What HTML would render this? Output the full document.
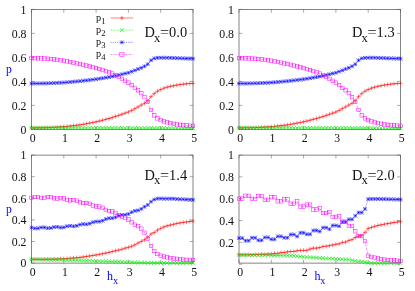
<!DOCTYPE html><html><head><meta charset="utf-8"><style>html,body{margin:0;padding:0;background:#fff}body{width:415px;height:291px;overflow:hidden;position:relative;font-family:"Liberation Serif",serif}</style></head><body><svg width="415" height="291" viewBox="0 0 415 291" style="position:absolute;left:0;top:0;will-change:transform">
<style>text{font-family:"Liberation Serif",serif;fill:#111}</style>
<rect x="31.5" y="9.4" width="161.5" height="120.0" fill="none" stroke="#505050" stroke-width="0.7"/>
<path d="M31.50 129.4v-3.4M31.50 9.4v3.4M31.5 129.40h3.4M193.0 129.40h-3.4M63.80 129.4v-3.4M63.80 9.4v3.4M31.5 105.40h3.4M193.0 105.40h-3.4M96.10 129.4v-3.4M96.10 9.4v3.4M31.5 81.40h3.4M193.0 81.40h-3.4M128.40 129.4v-3.4M128.40 9.4v3.4M31.5 57.40h3.4M193.0 57.40h-3.4M160.70 129.4v-3.4M160.70 9.4v3.4M31.5 33.40h3.4M193.0 33.40h-3.4M193.00 129.4v-3.4M193.00 9.4v3.4M31.5 9.40h3.4M193.0 9.40h-3.4" stroke="#555" stroke-width="0.5" fill="none"/>
<text x="32.70" y="141.50" font-size="11.8" text-anchor="middle">0</text>
<text x="65.00" y="141.50" font-size="11.8" text-anchor="middle">1</text>
<text x="97.30" y="141.50" font-size="11.8" text-anchor="middle">2</text>
<text x="129.60" y="141.50" font-size="11.8" text-anchor="middle">3</text>
<text x="161.90" y="141.50" font-size="11.8" text-anchor="middle">4</text>
<text x="194.20" y="141.50" font-size="11.8" text-anchor="middle">5</text>
<text x="26.50" y="133.60" font-size="11.8" text-anchor="end">0</text>
<text x="26.50" y="109.60" font-size="11.8" text-anchor="end">0.2</text>
<text x="26.50" y="85.60" font-size="11.8" text-anchor="end">0.4</text>
<text x="26.50" y="61.60" font-size="11.8" text-anchor="end">0.6</text>
<text x="26.50" y="37.60" font-size="11.8" text-anchor="end">0.8</text>
<text x="26.50" y="13.60" font-size="11.8" text-anchor="end">1</text>
<polyline points="31.50,127.90 34.73,127.86 37.96,127.83 41.19,127.79 44.42,127.75 47.65,127.66 50.88,127.52 54.11,127.34 57.34,127.14 60.57,126.94 63.80,126.70 67.03,126.39 70.26,126.04 73.49,125.68 76.72,125.31 79.95,124.87 83.18,124.34 86.41,123.76 89.64,123.16 92.87,122.54 96.10,121.86 99.33,121.08 102.56,120.23 105.79,119.37 109.02,118.49 112.25,117.54 115.48,116.50 118.71,115.38 121.94,114.26 125.17,113.10 128.40,112.00 131.63,110.44 134.86,108.64 138.09,106.84 141.32,105.04 144.55,103.24 147.78,100.84 151.01,96.64 154.24,93.64 157.47,91.24 160.70,89.56 163.93,88.12 167.16,87.16 170.39,86.32 173.62,85.72 176.85,85.12 180.08,84.52 183.31,84.16 186.54,83.80 189.77,83.56 193.00,83.32" fill="none" stroke="#ff0000" stroke-width="0.5"/>
<path d="M29.40 127.90H33.60M31.50 125.80V130.00" stroke="#ff0000" stroke-width="0.5" fill="none"/>
<path d="M32.63 127.86H36.83M34.73 125.76V129.96" stroke="#ff0000" stroke-width="0.5" fill="none"/>
<path d="M35.86 127.83H40.06M37.96 125.73V129.93" stroke="#ff0000" stroke-width="0.5" fill="none"/>
<path d="M39.09 127.79H43.29M41.19 125.69V129.89" stroke="#ff0000" stroke-width="0.5" fill="none"/>
<path d="M42.32 127.75H46.52M44.42 125.65V129.85" stroke="#ff0000" stroke-width="0.5" fill="none"/>
<path d="M45.55 127.66H49.75M47.65 125.56V129.76" stroke="#ff0000" stroke-width="0.5" fill="none"/>
<path d="M48.78 127.52H52.98M50.88 125.42V129.62" stroke="#ff0000" stroke-width="0.5" fill="none"/>
<path d="M52.01 127.34H56.21M54.11 125.24V129.44" stroke="#ff0000" stroke-width="0.5" fill="none"/>
<path d="M55.24 127.14H59.44M57.34 125.04V129.24" stroke="#ff0000" stroke-width="0.5" fill="none"/>
<path d="M58.47 126.94H62.67M60.57 124.84V129.04" stroke="#ff0000" stroke-width="0.5" fill="none"/>
<path d="M61.70 126.70H65.90M63.80 124.60V128.80" stroke="#ff0000" stroke-width="0.5" fill="none"/>
<path d="M64.93 126.39H69.13M67.03 124.29V128.49" stroke="#ff0000" stroke-width="0.5" fill="none"/>
<path d="M68.16 126.04H72.36M70.26 123.94V128.14" stroke="#ff0000" stroke-width="0.5" fill="none"/>
<path d="M71.39 125.68H75.59M73.49 123.58V127.78" stroke="#ff0000" stroke-width="0.5" fill="none"/>
<path d="M74.62 125.31H78.82M76.72 123.21V127.41" stroke="#ff0000" stroke-width="0.5" fill="none"/>
<path d="M77.85 124.87H82.05M79.95 122.77V126.97" stroke="#ff0000" stroke-width="0.5" fill="none"/>
<path d="M81.08 124.34H85.28M83.18 122.25V126.44" stroke="#ff0000" stroke-width="0.5" fill="none"/>
<path d="M84.31 123.76H88.51M86.41 121.66V125.86" stroke="#ff0000" stroke-width="0.5" fill="none"/>
<path d="M87.54 123.16H91.74M89.64 121.06V125.26" stroke="#ff0000" stroke-width="0.5" fill="none"/>
<path d="M90.77 122.54H94.97M92.87 120.44V124.64" stroke="#ff0000" stroke-width="0.5" fill="none"/>
<path d="M94.00 121.86H98.20M96.10 119.76V123.96" stroke="#ff0000" stroke-width="0.5" fill="none"/>
<path d="M97.23 121.08H101.43M99.33 118.98V123.18" stroke="#ff0000" stroke-width="0.5" fill="none"/>
<path d="M100.46 120.23H104.66M102.56 118.13V122.33" stroke="#ff0000" stroke-width="0.5" fill="none"/>
<path d="M103.69 119.37H107.89M105.79 117.27V121.47" stroke="#ff0000" stroke-width="0.5" fill="none"/>
<path d="M106.92 118.49H111.12M109.02 116.39V120.59" stroke="#ff0000" stroke-width="0.5" fill="none"/>
<path d="M110.15 117.54H114.35M112.25 115.44V119.64" stroke="#ff0000" stroke-width="0.5" fill="none"/>
<path d="M113.38 116.50H117.58M115.48 114.40V118.60" stroke="#ff0000" stroke-width="0.5" fill="none"/>
<path d="M116.61 115.38H120.81M118.71 113.28V117.48" stroke="#ff0000" stroke-width="0.5" fill="none"/>
<path d="M119.84 114.26H124.04M121.94 112.16V116.36" stroke="#ff0000" stroke-width="0.5" fill="none"/>
<path d="M123.07 113.10H127.27M125.17 111.00V115.20" stroke="#ff0000" stroke-width="0.5" fill="none"/>
<path d="M126.30 112.00H130.50M128.40 109.90V114.10" stroke="#ff0000" stroke-width="0.5" fill="none"/>
<path d="M129.53 110.44H133.73M131.63 108.34V112.54" stroke="#ff0000" stroke-width="0.5" fill="none"/>
<path d="M132.76 108.64H136.96M134.86 106.54V110.74" stroke="#ff0000" stroke-width="0.5" fill="none"/>
<path d="M135.99 106.84H140.19M138.09 104.74V108.94" stroke="#ff0000" stroke-width="0.5" fill="none"/>
<path d="M139.22 105.04H143.42M141.32 102.94V107.14" stroke="#ff0000" stroke-width="0.5" fill="none"/>
<path d="M142.45 103.24H146.65M144.55 101.14V105.34" stroke="#ff0000" stroke-width="0.5" fill="none"/>
<path d="M145.68 100.84H149.88M147.78 98.74V102.94" stroke="#ff0000" stroke-width="0.5" fill="none"/>
<path d="M148.91 96.64H153.11M151.01 94.54V98.74" stroke="#ff0000" stroke-width="0.5" fill="none"/>
<path d="M152.14 93.64H156.34M154.24 91.54V95.74" stroke="#ff0000" stroke-width="0.5" fill="none"/>
<path d="M155.37 91.24H159.57M157.47 89.14V93.34" stroke="#ff0000" stroke-width="0.5" fill="none"/>
<path d="M158.60 89.56H162.80M160.70 87.46V91.66" stroke="#ff0000" stroke-width="0.5" fill="none"/>
<path d="M161.83 88.12H166.03M163.93 86.02V90.22" stroke="#ff0000" stroke-width="0.5" fill="none"/>
<path d="M165.06 87.16H169.26M167.16 85.06V89.26" stroke="#ff0000" stroke-width="0.5" fill="none"/>
<path d="M168.29 86.32H172.49M170.39 84.22V88.42" stroke="#ff0000" stroke-width="0.5" fill="none"/>
<path d="M171.52 85.72H175.72M173.62 83.62V87.82" stroke="#ff0000" stroke-width="0.5" fill="none"/>
<path d="M174.75 85.12H178.95M176.85 83.02V87.22" stroke="#ff0000" stroke-width="0.5" fill="none"/>
<path d="M177.98 84.52H182.18M180.08 82.42V86.62" stroke="#ff0000" stroke-width="0.5" fill="none"/>
<path d="M181.21 84.16H185.41M183.31 82.06V86.26" stroke="#ff0000" stroke-width="0.5" fill="none"/>
<path d="M184.44 83.80H188.64M186.54 81.70V85.90" stroke="#ff0000" stroke-width="0.5" fill="none"/>
<path d="M187.67 83.56H191.87M189.77 81.46V85.66" stroke="#ff0000" stroke-width="0.5" fill="none"/>
<path d="M190.90 83.32H195.10M193.00 81.22V85.42" stroke="#ff0000" stroke-width="0.5" fill="none"/>
<polyline points="31.50,127.90 34.73,127.90 37.96,127.91 41.19,127.91 44.42,127.91 47.65,127.92 50.88,127.92 54.11,127.92 57.34,127.92 60.57,127.93 63.80,127.93 67.03,127.93 70.26,127.94 73.49,127.94 76.72,127.94 79.95,127.95 83.18,127.95 86.41,127.95 89.64,127.95 92.87,127.96 96.10,127.96 99.33,127.97 102.56,127.98 105.79,127.98 109.02,127.99 112.25,128.00 115.48,128.01 118.71,128.02 121.94,128.02 125.17,128.03 128.40,128.04 131.63,128.05 134.86,128.06 138.09,128.06 141.32,128.07 144.55,128.08 147.78,128.09 151.01,128.10 154.24,128.10 157.47,128.11 160.70,128.12 163.93,128.13 167.16,128.14 170.39,128.14 173.62,128.15 176.85,128.16 180.08,128.17 183.31,128.18 186.54,128.18 189.77,128.19 193.00,128.20" fill="none" stroke="#00ee00" stroke-width="0.75" stroke-dasharray="2.0,1.0"/>
<path d="M29.55 125.95L33.45 129.85M29.55 129.85L33.45 125.95" stroke="#00ee00" stroke-width="0.62" fill="none"/>
<path d="M32.78 125.95L36.68 129.85M32.78 129.85L36.68 125.95" stroke="#00ee00" stroke-width="0.62" fill="none"/>
<path d="M36.01 125.96L39.91 129.86M36.01 129.86L39.91 125.96" stroke="#00ee00" stroke-width="0.62" fill="none"/>
<path d="M39.24 125.96L43.14 129.86M39.24 129.86L43.14 125.96" stroke="#00ee00" stroke-width="0.62" fill="none"/>
<path d="M42.47 125.96L46.37 129.86M42.47 129.86L46.37 125.96" stroke="#00ee00" stroke-width="0.62" fill="none"/>
<path d="M45.70 125.97L49.60 129.87M45.70 129.87L49.60 125.97" stroke="#00ee00" stroke-width="0.62" fill="none"/>
<path d="M48.93 125.97L52.83 129.87M48.93 129.87L52.83 125.97" stroke="#00ee00" stroke-width="0.62" fill="none"/>
<path d="M52.16 125.97L56.06 129.87M52.16 129.87L56.06 125.97" stroke="#00ee00" stroke-width="0.62" fill="none"/>
<path d="M55.39 125.97L59.29 129.87M55.39 129.87L59.29 125.97" stroke="#00ee00" stroke-width="0.62" fill="none"/>
<path d="M58.62 125.98L62.52 129.88M58.62 129.88L62.52 125.98" stroke="#00ee00" stroke-width="0.62" fill="none"/>
<path d="M61.85 125.98L65.75 129.88M61.85 129.88L65.75 125.98" stroke="#00ee00" stroke-width="0.62" fill="none"/>
<path d="M65.08 125.98L68.98 129.88M65.08 129.88L68.98 125.98" stroke="#00ee00" stroke-width="0.62" fill="none"/>
<path d="M68.31 125.99L72.21 129.89M68.31 129.89L72.21 125.99" stroke="#00ee00" stroke-width="0.62" fill="none"/>
<path d="M71.54 125.99L75.44 129.89M71.54 129.89L75.44 125.99" stroke="#00ee00" stroke-width="0.62" fill="none"/>
<path d="M74.77 125.99L78.67 129.89M74.77 129.89L78.67 125.99" stroke="#00ee00" stroke-width="0.62" fill="none"/>
<path d="M78.00 126.00L81.90 129.90M78.00 129.90L81.90 126.00" stroke="#00ee00" stroke-width="0.62" fill="none"/>
<path d="M81.23 126.00L85.13 129.90M81.23 129.90L85.13 126.00" stroke="#00ee00" stroke-width="0.62" fill="none"/>
<path d="M84.46 126.00L88.36 129.90M84.46 129.90L88.36 126.00" stroke="#00ee00" stroke-width="0.62" fill="none"/>
<path d="M87.69 126.00L91.59 129.90M87.69 129.90L91.59 126.00" stroke="#00ee00" stroke-width="0.62" fill="none"/>
<path d="M90.92 126.01L94.82 129.91M90.92 129.91L94.82 126.01" stroke="#00ee00" stroke-width="0.62" fill="none"/>
<path d="M94.15 126.01L98.05 129.91M94.15 129.91L98.05 126.01" stroke="#00ee00" stroke-width="0.62" fill="none"/>
<path d="M97.38 126.02L101.28 129.92M97.38 129.92L101.28 126.02" stroke="#00ee00" stroke-width="0.62" fill="none"/>
<path d="M100.61 126.03L104.51 129.93M100.61 129.93L104.51 126.03" stroke="#00ee00" stroke-width="0.62" fill="none"/>
<path d="M103.84 126.03L107.74 129.93M103.84 129.93L107.74 126.03" stroke="#00ee00" stroke-width="0.62" fill="none"/>
<path d="M107.07 126.04L110.97 129.94M107.07 129.94L110.97 126.04" stroke="#00ee00" stroke-width="0.62" fill="none"/>
<path d="M110.30 126.05L114.20 129.95M110.30 129.95L114.20 126.05" stroke="#00ee00" stroke-width="0.62" fill="none"/>
<path d="M113.53 126.06L117.43 129.96M113.53 129.96L117.43 126.06" stroke="#00ee00" stroke-width="0.62" fill="none"/>
<path d="M116.76 126.07L120.66 129.97M116.76 129.97L120.66 126.07" stroke="#00ee00" stroke-width="0.62" fill="none"/>
<path d="M119.99 126.07L123.89 129.97M119.99 129.97L123.89 126.07" stroke="#00ee00" stroke-width="0.62" fill="none"/>
<path d="M123.22 126.08L127.12 129.98M123.22 129.98L127.12 126.08" stroke="#00ee00" stroke-width="0.62" fill="none"/>
<path d="M126.45 126.09L130.35 129.99M126.45 129.99L130.35 126.09" stroke="#00ee00" stroke-width="0.62" fill="none"/>
<path d="M129.68 126.10L133.58 130.00M129.68 130.00L133.58 126.10" stroke="#00ee00" stroke-width="0.62" fill="none"/>
<path d="M132.91 126.11L136.81 130.01M132.91 130.01L136.81 126.11" stroke="#00ee00" stroke-width="0.62" fill="none"/>
<path d="M136.14 126.11L140.04 130.01M136.14 130.01L140.04 126.11" stroke="#00ee00" stroke-width="0.62" fill="none"/>
<path d="M139.37 126.12L143.27 130.02M139.37 130.02L143.27 126.12" stroke="#00ee00" stroke-width="0.62" fill="none"/>
<path d="M142.60 126.13L146.50 130.03M142.60 130.03L146.50 126.13" stroke="#00ee00" stroke-width="0.62" fill="none"/>
<path d="M145.83 126.14L149.73 130.04M145.83 130.04L149.73 126.14" stroke="#00ee00" stroke-width="0.62" fill="none"/>
<path d="M149.06 126.15L152.96 130.05M149.06 130.05L152.96 126.15" stroke="#00ee00" stroke-width="0.62" fill="none"/>
<path d="M152.29 126.15L156.19 130.05M152.29 130.05L156.19 126.15" stroke="#00ee00" stroke-width="0.62" fill="none"/>
<path d="M155.52 126.16L159.42 130.06M155.52 130.06L159.42 126.16" stroke="#00ee00" stroke-width="0.62" fill="none"/>
<path d="M158.75 126.17L162.65 130.07M158.75 130.07L162.65 126.17" stroke="#00ee00" stroke-width="0.62" fill="none"/>
<path d="M161.98 126.18L165.88 130.08M161.98 130.08L165.88 126.18" stroke="#00ee00" stroke-width="0.62" fill="none"/>
<path d="M165.21 126.19L169.11 130.09M165.21 130.09L169.11 126.19" stroke="#00ee00" stroke-width="0.62" fill="none"/>
<path d="M168.44 126.19L172.34 130.09M168.44 130.09L172.34 126.19" stroke="#00ee00" stroke-width="0.62" fill="none"/>
<path d="M171.67 126.20L175.57 130.10M171.67 130.10L175.57 126.20" stroke="#00ee00" stroke-width="0.62" fill="none"/>
<path d="M174.90 126.21L178.80 130.11M174.90 130.11L178.80 126.21" stroke="#00ee00" stroke-width="0.62" fill="none"/>
<path d="M178.13 126.22L182.03 130.12M178.13 130.12L182.03 126.22" stroke="#00ee00" stroke-width="0.62" fill="none"/>
<path d="M181.36 126.23L185.26 130.13M181.36 130.13L185.26 126.23" stroke="#00ee00" stroke-width="0.62" fill="none"/>
<path d="M184.59 126.23L188.49 130.13M184.59 130.13L188.49 126.23" stroke="#00ee00" stroke-width="0.62" fill="none"/>
<path d="M187.82 126.24L191.72 130.14M187.82 130.14L191.72 126.24" stroke="#00ee00" stroke-width="0.62" fill="none"/>
<path d="M191.05 126.25L194.95 130.15M191.05 130.15L194.95 126.25" stroke="#00ee00" stroke-width="0.62" fill="none"/>
<polyline points="31.50,83.56 34.73,83.51 37.96,83.46 41.19,83.42 44.42,83.36 47.65,83.28 50.88,83.17 54.11,83.03 57.34,82.89 60.57,82.73 63.80,82.55 67.03,82.30 70.26,82.02 73.49,81.74 76.72,81.44 79.95,81.12 83.18,80.77 86.41,80.39 89.64,80.01 92.87,79.62 96.10,79.19 99.33,78.70 102.56,78.18 105.79,77.66 109.02,77.11 112.25,76.51 115.48,75.82 118.71,75.06 121.94,74.30 125.17,73.50 128.40,72.76 131.63,71.56 134.86,70.36 138.09,69.04 141.32,67.84 144.55,66.28 147.78,64.24 151.01,60.28 154.24,58.36 157.47,57.88 160.70,57.76 163.93,57.76 167.16,57.76 170.39,57.88 173.62,58.00 176.85,58.12 180.08,58.24 183.31,58.36 186.54,58.48 189.77,58.60 193.00,58.72" fill="none" stroke="#0000ff" stroke-width="0.5" stroke-dasharray="1.1,1.1"/>
<path d="M29.60 81.66L33.40 85.46M29.60 85.46L33.40 81.66M29.60 83.56H33.40M31.50 81.66V85.46" stroke="#0000ff" stroke-width="0.55" fill="none"/>
<path d="M32.83 81.61L36.63 85.41M32.83 85.41L36.63 81.61M32.83 83.51H36.63M34.73 81.61V85.41" stroke="#0000ff" stroke-width="0.55" fill="none"/>
<path d="M36.06 81.56L39.86 85.36M36.06 85.36L39.86 81.56M36.06 83.46H39.86M37.96 81.56V85.36" stroke="#0000ff" stroke-width="0.55" fill="none"/>
<path d="M39.29 81.52L43.09 85.32M39.29 85.32L43.09 81.52M39.29 83.42H43.09M41.19 81.52V85.32" stroke="#0000ff" stroke-width="0.55" fill="none"/>
<path d="M42.52 81.46L46.32 85.26M42.52 85.26L46.32 81.46M42.52 83.36H46.32M44.42 81.46V85.26" stroke="#0000ff" stroke-width="0.55" fill="none"/>
<path d="M45.75 81.38L49.55 85.18M45.75 85.18L49.55 81.38M45.75 83.28H49.55M47.65 81.38V85.18" stroke="#0000ff" stroke-width="0.55" fill="none"/>
<path d="M48.98 81.27L52.78 85.07M48.98 85.07L52.78 81.27M48.98 83.17H52.78M50.88 81.27V85.07" stroke="#0000ff" stroke-width="0.55" fill="none"/>
<path d="M52.21 81.13L56.01 84.93M52.21 84.93L56.01 81.13M52.21 83.03H56.01M54.11 81.13V84.93" stroke="#0000ff" stroke-width="0.55" fill="none"/>
<path d="M55.44 80.99L59.24 84.79M55.44 84.79L59.24 80.99M55.44 82.89H59.24M57.34 80.99V84.79" stroke="#0000ff" stroke-width="0.55" fill="none"/>
<path d="M58.67 80.83L62.47 84.64M58.67 84.64L62.47 80.83M58.67 82.73H62.47M60.57 80.83V84.64" stroke="#0000ff" stroke-width="0.55" fill="none"/>
<path d="M61.90 80.65L65.70 84.45M61.90 84.45L65.70 80.65M61.90 82.55H65.70M63.80 80.65V84.45" stroke="#0000ff" stroke-width="0.55" fill="none"/>
<path d="M65.13 80.40L68.93 84.20M65.13 84.20L68.93 80.40M65.13 82.30H68.93M67.03 80.40V84.20" stroke="#0000ff" stroke-width="0.55" fill="none"/>
<path d="M68.36 80.12L72.16 83.92M68.36 83.92L72.16 80.12M68.36 82.02H72.16M70.26 80.12V83.92" stroke="#0000ff" stroke-width="0.55" fill="none"/>
<path d="M71.59 79.84L75.39 83.64M71.59 83.64L75.39 79.84M71.59 81.74H75.39M73.49 79.84V83.64" stroke="#0000ff" stroke-width="0.55" fill="none"/>
<path d="M74.82 79.54L78.62 83.34M74.82 83.34L78.62 79.54M74.82 81.44H78.62M76.72 79.54V83.34" stroke="#0000ff" stroke-width="0.55" fill="none"/>
<path d="M78.05 79.22L81.85 83.02M78.05 83.02L81.85 79.22M78.05 81.12H81.85M79.95 79.22V83.02" stroke="#0000ff" stroke-width="0.55" fill="none"/>
<path d="M81.28 78.87L85.08 82.67M81.28 82.67L85.08 78.87M81.28 80.77H85.08M83.18 78.87V82.67" stroke="#0000ff" stroke-width="0.55" fill="none"/>
<path d="M84.51 78.49L88.31 82.29M84.51 82.29L88.31 78.49M84.51 80.39H88.31M86.41 78.49V82.29" stroke="#0000ff" stroke-width="0.55" fill="none"/>
<path d="M87.74 78.11L91.54 81.91M87.74 81.91L91.54 78.11M87.74 80.01H91.54M89.64 78.11V81.91" stroke="#0000ff" stroke-width="0.55" fill="none"/>
<path d="M90.97 77.72L94.77 81.52M90.97 81.52L94.77 77.72M90.97 79.62H94.77M92.87 77.72V81.52" stroke="#0000ff" stroke-width="0.55" fill="none"/>
<path d="M94.20 77.29L98.00 81.09M94.20 81.09L98.00 77.29M94.20 79.19H98.00M96.10 77.29V81.09" stroke="#0000ff" stroke-width="0.55" fill="none"/>
<path d="M97.43 76.80L101.23 80.60M97.43 80.60L101.23 76.80M97.43 78.70H101.23M99.33 76.80V80.60" stroke="#0000ff" stroke-width="0.55" fill="none"/>
<path d="M100.66 76.28L104.46 80.08M100.66 80.08L104.46 76.28M100.66 78.18H104.46M102.56 76.28V80.08" stroke="#0000ff" stroke-width="0.55" fill="none"/>
<path d="M103.89 75.76L107.69 79.56M103.89 79.56L107.69 75.76M103.89 77.66H107.69M105.79 75.76V79.56" stroke="#0000ff" stroke-width="0.55" fill="none"/>
<path d="M107.12 75.21L110.92 79.01M107.12 79.01L110.92 75.21M107.12 77.11H110.92M109.02 75.21V79.01" stroke="#0000ff" stroke-width="0.55" fill="none"/>
<path d="M110.35 74.61L114.15 78.41M110.35 78.41L114.15 74.61M110.35 76.51H114.15M112.25 74.61V78.41" stroke="#0000ff" stroke-width="0.55" fill="none"/>
<path d="M113.58 73.92L117.38 77.72M113.58 77.72L117.38 73.92M113.58 75.82H117.38M115.48 73.92V77.72" stroke="#0000ff" stroke-width="0.55" fill="none"/>
<path d="M116.81 73.16L120.61 76.96M116.81 76.96L120.61 73.16M116.81 75.06H120.61M118.71 73.16V76.96" stroke="#0000ff" stroke-width="0.55" fill="none"/>
<path d="M120.04 72.40L123.84 76.20M120.04 76.20L123.84 72.40M120.04 74.30H123.84M121.94 72.40V76.20" stroke="#0000ff" stroke-width="0.55" fill="none"/>
<path d="M123.27 71.60L127.07 75.40M123.27 75.40L127.07 71.60M123.27 73.50H127.07M125.17 71.60V75.40" stroke="#0000ff" stroke-width="0.55" fill="none"/>
<path d="M126.50 70.86L130.30 74.66M126.50 74.66L130.30 70.86M126.50 72.76H130.30M128.40 70.86V74.66" stroke="#0000ff" stroke-width="0.55" fill="none"/>
<path d="M129.73 69.66L133.53 73.46M129.73 73.46L133.53 69.66M129.73 71.56H133.53M131.63 69.66V73.46" stroke="#0000ff" stroke-width="0.55" fill="none"/>
<path d="M132.96 68.46L136.76 72.26M132.96 72.26L136.76 68.46M132.96 70.36H136.76M134.86 68.46V72.26" stroke="#0000ff" stroke-width="0.55" fill="none"/>
<path d="M136.19 67.14L139.99 70.94M136.19 70.94L139.99 67.14M136.19 69.04H139.99M138.09 67.14V70.94" stroke="#0000ff" stroke-width="0.55" fill="none"/>
<path d="M139.42 65.94L143.22 69.74M139.42 69.74L143.22 65.94M139.42 67.84H143.22M141.32 65.94V69.74" stroke="#0000ff" stroke-width="0.55" fill="none"/>
<path d="M142.65 64.38L146.45 68.18M142.65 68.18L146.45 64.38M142.65 66.28H146.45M144.55 64.38V68.18" stroke="#0000ff" stroke-width="0.55" fill="none"/>
<path d="M145.88 62.34L149.68 66.14M145.88 66.14L149.68 62.34M145.88 64.24H149.68M147.78 62.34V66.14" stroke="#0000ff" stroke-width="0.55" fill="none"/>
<path d="M149.11 58.38L152.91 62.18M149.11 62.18L152.91 58.38M149.11 60.28H152.91M151.01 58.38V62.18" stroke="#0000ff" stroke-width="0.55" fill="none"/>
<path d="M152.34 56.46L156.14 60.26M152.34 60.26L156.14 56.46M152.34 58.36H156.14M154.24 56.46V60.26" stroke="#0000ff" stroke-width="0.55" fill="none"/>
<path d="M155.57 55.98L159.37 59.78M155.57 59.78L159.37 55.98M155.57 57.88H159.37M157.47 55.98V59.78" stroke="#0000ff" stroke-width="0.55" fill="none"/>
<path d="M158.80 55.86L162.60 59.66M158.80 59.66L162.60 55.86M158.80 57.76H162.60M160.70 55.86V59.66" stroke="#0000ff" stroke-width="0.55" fill="none"/>
<path d="M162.03 55.86L165.83 59.66M162.03 59.66L165.83 55.86M162.03 57.76H165.83M163.93 55.86V59.66" stroke="#0000ff" stroke-width="0.55" fill="none"/>
<path d="M165.26 55.86L169.06 59.66M165.26 59.66L169.06 55.86M165.26 57.76H169.06M167.16 55.86V59.66" stroke="#0000ff" stroke-width="0.55" fill="none"/>
<path d="M168.49 55.98L172.29 59.78M168.49 59.78L172.29 55.98M168.49 57.88H172.29M170.39 55.98V59.78" stroke="#0000ff" stroke-width="0.55" fill="none"/>
<path d="M171.72 56.10L175.52 59.90M171.72 59.90L175.52 56.10M171.72 58.00H175.52M173.62 56.10V59.90" stroke="#0000ff" stroke-width="0.55" fill="none"/>
<path d="M174.95 56.22L178.75 60.02M174.95 60.02L178.75 56.22M174.95 58.12H178.75M176.85 56.22V60.02" stroke="#0000ff" stroke-width="0.55" fill="none"/>
<path d="M178.18 56.34L181.98 60.14M178.18 60.14L181.98 56.34M178.18 58.24H181.98M180.08 56.34V60.14" stroke="#0000ff" stroke-width="0.55" fill="none"/>
<path d="M181.41 56.46L185.21 60.26M181.41 60.26L185.21 56.46M181.41 58.36H185.21M183.31 56.46V60.26" stroke="#0000ff" stroke-width="0.55" fill="none"/>
<path d="M184.64 56.58L188.44 60.38M184.64 60.38L188.44 56.58M184.64 58.48H188.44M186.54 56.58V60.38" stroke="#0000ff" stroke-width="0.55" fill="none"/>
<path d="M187.87 56.70L191.67 60.50M187.87 60.50L191.67 56.70M187.87 58.60H191.67M189.77 56.70V60.50" stroke="#0000ff" stroke-width="0.55" fill="none"/>
<path d="M191.10 56.82L194.90 60.62M191.10 60.62L194.90 56.82M191.10 58.72H194.90M193.00 56.82V60.62" stroke="#0000ff" stroke-width="0.55" fill="none"/>
<polyline points="31.50,58.12 34.73,58.22 37.96,58.31 41.19,58.41 44.42,58.52 47.65,58.72 50.88,59.03 54.11,59.42 57.34,59.82 60.57,60.25 63.80,60.74 67.03,61.33 70.26,61.98 73.49,62.66 76.72,63.34 79.95,64.05 83.18,64.80 86.41,65.58 89.64,66.38 92.87,67.18 96.10,68.06 99.33,69.03 102.56,70.07 105.79,71.13 109.02,72.24 112.25,73.55 115.48,75.16 118.71,76.98 121.94,78.86 125.17,80.77 128.40,82.60 131.63,85.12 134.86,87.88 138.09,90.28 141.32,93.16 144.55,97.24 147.78,101.80 151.01,109.96 154.24,115.36 157.47,118.36 160.70,120.16 163.93,121.36 167.16,122.32 170.39,123.16 173.62,123.76 176.85,124.36 180.08,124.84 183.31,125.20 186.54,125.44 189.77,125.68 193.00,125.80" fill="none" stroke="#ff00ff" stroke-width="0.5" stroke-dasharray="1.6,0.8,0.5,0.8"/>
<rect x="29.75" y="56.37" width="3.50" height="3.50" stroke="#ff00ff" stroke-width="0.5" fill="none"/>
<rect x="32.98" y="56.47" width="3.50" height="3.50" stroke="#ff00ff" stroke-width="0.5" fill="none"/>
<rect x="36.21" y="56.56" width="3.50" height="3.50" stroke="#ff00ff" stroke-width="0.5" fill="none"/>
<rect x="39.44" y="56.66" width="3.50" height="3.50" stroke="#ff00ff" stroke-width="0.5" fill="none"/>
<rect x="42.67" y="56.77" width="3.50" height="3.50" stroke="#ff00ff" stroke-width="0.5" fill="none"/>
<rect x="45.90" y="56.97" width="3.50" height="3.50" stroke="#ff00ff" stroke-width="0.5" fill="none"/>
<rect x="49.13" y="57.28" width="3.50" height="3.50" stroke="#ff00ff" stroke-width="0.5" fill="none"/>
<rect x="52.36" y="57.67" width="3.50" height="3.50" stroke="#ff00ff" stroke-width="0.5" fill="none"/>
<rect x="55.59" y="58.07" width="3.50" height="3.50" stroke="#ff00ff" stroke-width="0.5" fill="none"/>
<rect x="58.82" y="58.50" width="3.50" height="3.50" stroke="#ff00ff" stroke-width="0.5" fill="none"/>
<rect x="62.05" y="58.99" width="3.50" height="3.50" stroke="#ff00ff" stroke-width="0.5" fill="none"/>
<rect x="65.28" y="59.58" width="3.50" height="3.50" stroke="#ff00ff" stroke-width="0.5" fill="none"/>
<rect x="68.51" y="60.23" width="3.50" height="3.50" stroke="#ff00ff" stroke-width="0.5" fill="none"/>
<rect x="71.74" y="60.91" width="3.50" height="3.50" stroke="#ff00ff" stroke-width="0.5" fill="none"/>
<rect x="74.97" y="61.59" width="3.50" height="3.50" stroke="#ff00ff" stroke-width="0.5" fill="none"/>
<rect x="78.20" y="62.30" width="3.50" height="3.50" stroke="#ff00ff" stroke-width="0.5" fill="none"/>
<rect x="81.43" y="63.05" width="3.50" height="3.50" stroke="#ff00ff" stroke-width="0.5" fill="none"/>
<rect x="84.66" y="63.83" width="3.50" height="3.50" stroke="#ff00ff" stroke-width="0.5" fill="none"/>
<rect x="87.89" y="64.63" width="3.50" height="3.50" stroke="#ff00ff" stroke-width="0.5" fill="none"/>
<rect x="91.12" y="65.43" width="3.50" height="3.50" stroke="#ff00ff" stroke-width="0.5" fill="none"/>
<rect x="94.35" y="66.31" width="3.50" height="3.50" stroke="#ff00ff" stroke-width="0.5" fill="none"/>
<rect x="97.58" y="67.28" width="3.50" height="3.50" stroke="#ff00ff" stroke-width="0.5" fill="none"/>
<rect x="100.81" y="68.32" width="3.50" height="3.50" stroke="#ff00ff" stroke-width="0.5" fill="none"/>
<rect x="104.04" y="69.38" width="3.50" height="3.50" stroke="#ff00ff" stroke-width="0.5" fill="none"/>
<rect x="107.27" y="70.49" width="3.50" height="3.50" stroke="#ff00ff" stroke-width="0.5" fill="none"/>
<rect x="110.50" y="71.80" width="3.50" height="3.50" stroke="#ff00ff" stroke-width="0.5" fill="none"/>
<rect x="113.73" y="73.41" width="3.50" height="3.50" stroke="#ff00ff" stroke-width="0.5" fill="none"/>
<rect x="116.96" y="75.23" width="3.50" height="3.50" stroke="#ff00ff" stroke-width="0.5" fill="none"/>
<rect x="120.19" y="77.11" width="3.50" height="3.50" stroke="#ff00ff" stroke-width="0.5" fill="none"/>
<rect x="123.42" y="79.02" width="3.50" height="3.50" stroke="#ff00ff" stroke-width="0.5" fill="none"/>
<rect x="126.65" y="80.85" width="3.50" height="3.50" stroke="#ff00ff" stroke-width="0.5" fill="none"/>
<rect x="129.88" y="83.37" width="3.50" height="3.50" stroke="#ff00ff" stroke-width="0.5" fill="none"/>
<rect x="133.11" y="86.13" width="3.50" height="3.50" stroke="#ff00ff" stroke-width="0.5" fill="none"/>
<rect x="136.34" y="88.53" width="3.50" height="3.50" stroke="#ff00ff" stroke-width="0.5" fill="none"/>
<rect x="139.57" y="91.41" width="3.50" height="3.50" stroke="#ff00ff" stroke-width="0.5" fill="none"/>
<rect x="142.80" y="95.49" width="3.50" height="3.50" stroke="#ff00ff" stroke-width="0.5" fill="none"/>
<rect x="146.03" y="100.05" width="3.50" height="3.50" stroke="#ff00ff" stroke-width="0.5" fill="none"/>
<rect x="149.26" y="108.21" width="3.50" height="3.50" stroke="#ff00ff" stroke-width="0.5" fill="none"/>
<rect x="152.49" y="113.61" width="3.50" height="3.50" stroke="#ff00ff" stroke-width="0.5" fill="none"/>
<rect x="155.72" y="116.61" width="3.50" height="3.50" stroke="#ff00ff" stroke-width="0.5" fill="none"/>
<rect x="158.95" y="118.41" width="3.50" height="3.50" stroke="#ff00ff" stroke-width="0.5" fill="none"/>
<rect x="162.18" y="119.61" width="3.50" height="3.50" stroke="#ff00ff" stroke-width="0.5" fill="none"/>
<rect x="165.41" y="120.57" width="3.50" height="3.50" stroke="#ff00ff" stroke-width="0.5" fill="none"/>
<rect x="168.64" y="121.41" width="3.50" height="3.50" stroke="#ff00ff" stroke-width="0.5" fill="none"/>
<rect x="171.87" y="122.01" width="3.50" height="3.50" stroke="#ff00ff" stroke-width="0.5" fill="none"/>
<rect x="175.10" y="122.61" width="3.50" height="3.50" stroke="#ff00ff" stroke-width="0.5" fill="none"/>
<rect x="178.33" y="123.09" width="3.50" height="3.50" stroke="#ff00ff" stroke-width="0.5" fill="none"/>
<rect x="181.56" y="123.45" width="3.50" height="3.50" stroke="#ff00ff" stroke-width="0.5" fill="none"/>
<rect x="184.79" y="123.69" width="3.50" height="3.50" stroke="#ff00ff" stroke-width="0.5" fill="none"/>
<rect x="188.02" y="123.93" width="3.50" height="3.50" stroke="#ff00ff" stroke-width="0.5" fill="none"/>
<rect x="191.25" y="124.05" width="3.50" height="3.50" stroke="#ff00ff" stroke-width="0.5" fill="none"/>
<text x="144.50" y="37.10" font-size="14.4">D</text><text transform="translate(154.10,41.50) scale(1.05,1)" font-size="12">x</text><text transform="translate(160.00,37.10) scale(1.12,1)" font-size="14.4">=</text><text x="169.10" y="37.10" font-size="14.4">0.0</text>
<rect x="239.0" y="9.4" width="161.5" height="120.0" fill="none" stroke="#505050" stroke-width="0.7"/>
<path d="M239.00 129.4v-3.4M239.00 9.4v3.4M239.0 129.40h3.4M400.5 129.40h-3.4M271.30 129.4v-3.4M271.30 9.4v3.4M239.0 105.40h3.4M400.5 105.40h-3.4M303.60 129.4v-3.4M303.60 9.4v3.4M239.0 81.40h3.4M400.5 81.40h-3.4M335.90 129.4v-3.4M335.90 9.4v3.4M239.0 57.40h3.4M400.5 57.40h-3.4M368.20 129.4v-3.4M368.20 9.4v3.4M239.0 33.40h3.4M400.5 33.40h-3.4M400.50 129.4v-3.4M400.50 9.4v3.4M239.0 9.40h3.4M400.5 9.40h-3.4" stroke="#555" stroke-width="0.5" fill="none"/>
<text x="240.20" y="141.50" font-size="11.8" text-anchor="middle">0</text>
<text x="272.50" y="141.50" font-size="11.8" text-anchor="middle">1</text>
<text x="304.80" y="141.50" font-size="11.8" text-anchor="middle">2</text>
<text x="337.10" y="141.50" font-size="11.8" text-anchor="middle">3</text>
<text x="369.40" y="141.50" font-size="11.8" text-anchor="middle">4</text>
<text x="401.70" y="141.50" font-size="11.8" text-anchor="middle">5</text>
<text x="234.00" y="133.60" font-size="11.8" text-anchor="end">0</text>
<text x="234.00" y="109.60" font-size="11.8" text-anchor="end">0.2</text>
<text x="234.00" y="85.60" font-size="11.8" text-anchor="end">0.4</text>
<text x="234.00" y="61.60" font-size="11.8" text-anchor="end">0.6</text>
<text x="234.00" y="37.60" font-size="11.8" text-anchor="end">0.8</text>
<text x="234.00" y="13.60" font-size="11.8" text-anchor="end">1</text>
<polyline points="239.00,127.90 242.23,127.86 245.46,127.83 248.69,127.79 251.92,127.75 255.15,127.66 258.38,127.52 261.61,127.34 264.84,127.14 268.07,126.94 271.30,126.70 274.53,126.39 277.76,126.04 280.99,125.68 284.22,125.31 287.45,124.87 290.68,124.34 293.91,123.76 297.14,123.16 300.37,122.54 303.60,121.86 306.83,121.08 310.06,120.23 313.29,119.37 316.52,118.49 319.75,117.54 322.98,116.50 326.21,115.38 329.44,114.26 332.67,113.10 335.90,112.00 339.13,110.44 342.36,108.64 345.59,106.84 348.82,105.04 352.05,103.24 355.28,100.84 358.51,96.64 361.74,93.64 364.97,91.24 368.20,89.56 371.43,88.12 374.66,87.16 377.89,86.32 381.12,85.72 384.35,85.12 387.58,84.52 390.81,84.16 394.04,83.80 397.27,83.56 400.50,83.32" fill="none" stroke="#ff0000" stroke-width="0.5"/>
<path d="M236.90 127.90H241.10M239.00 125.80V130.00" stroke="#ff0000" stroke-width="0.5" fill="none"/>
<path d="M240.13 127.86H244.33M242.23 125.76V129.96" stroke="#ff0000" stroke-width="0.5" fill="none"/>
<path d="M243.36 127.83H247.56M245.46 125.73V129.93" stroke="#ff0000" stroke-width="0.5" fill="none"/>
<path d="M246.59 127.79H250.79M248.69 125.69V129.89" stroke="#ff0000" stroke-width="0.5" fill="none"/>
<path d="M249.82 127.75H254.02M251.92 125.65V129.85" stroke="#ff0000" stroke-width="0.5" fill="none"/>
<path d="M253.05 127.66H257.25M255.15 125.56V129.76" stroke="#ff0000" stroke-width="0.5" fill="none"/>
<path d="M256.28 127.52H260.48M258.38 125.42V129.62" stroke="#ff0000" stroke-width="0.5" fill="none"/>
<path d="M259.51 127.34H263.71M261.61 125.24V129.44" stroke="#ff0000" stroke-width="0.5" fill="none"/>
<path d="M262.74 127.14H266.94M264.84 125.04V129.24" stroke="#ff0000" stroke-width="0.5" fill="none"/>
<path d="M265.97 126.94H270.17M268.07 124.84V129.04" stroke="#ff0000" stroke-width="0.5" fill="none"/>
<path d="M269.20 126.70H273.40M271.30 124.60V128.80" stroke="#ff0000" stroke-width="0.5" fill="none"/>
<path d="M272.43 126.39H276.63M274.53 124.29V128.49" stroke="#ff0000" stroke-width="0.5" fill="none"/>
<path d="M275.66 126.04H279.86M277.76 123.94V128.14" stroke="#ff0000" stroke-width="0.5" fill="none"/>
<path d="M278.89 125.68H283.09M280.99 123.58V127.78" stroke="#ff0000" stroke-width="0.5" fill="none"/>
<path d="M282.12 125.31H286.32M284.22 123.21V127.41" stroke="#ff0000" stroke-width="0.5" fill="none"/>
<path d="M285.35 124.87H289.55M287.45 122.77V126.97" stroke="#ff0000" stroke-width="0.5" fill="none"/>
<path d="M288.58 124.34H292.78M290.68 122.25V126.44" stroke="#ff0000" stroke-width="0.5" fill="none"/>
<path d="M291.81 123.76H296.01M293.91 121.66V125.86" stroke="#ff0000" stroke-width="0.5" fill="none"/>
<path d="M295.04 123.16H299.24M297.14 121.06V125.26" stroke="#ff0000" stroke-width="0.5" fill="none"/>
<path d="M298.27 122.54H302.47M300.37 120.44V124.64" stroke="#ff0000" stroke-width="0.5" fill="none"/>
<path d="M301.50 121.86H305.70M303.60 119.76V123.96" stroke="#ff0000" stroke-width="0.5" fill="none"/>
<path d="M304.73 121.08H308.93M306.83 118.98V123.18" stroke="#ff0000" stroke-width="0.5" fill="none"/>
<path d="M307.96 120.23H312.16M310.06 118.13V122.33" stroke="#ff0000" stroke-width="0.5" fill="none"/>
<path d="M311.19 119.37H315.39M313.29 117.27V121.47" stroke="#ff0000" stroke-width="0.5" fill="none"/>
<path d="M314.42 118.49H318.62M316.52 116.39V120.59" stroke="#ff0000" stroke-width="0.5" fill="none"/>
<path d="M317.65 117.54H321.85M319.75 115.44V119.64" stroke="#ff0000" stroke-width="0.5" fill="none"/>
<path d="M320.88 116.50H325.08M322.98 114.40V118.60" stroke="#ff0000" stroke-width="0.5" fill="none"/>
<path d="M324.11 115.38H328.31M326.21 113.28V117.48" stroke="#ff0000" stroke-width="0.5" fill="none"/>
<path d="M327.34 114.26H331.54M329.44 112.16V116.36" stroke="#ff0000" stroke-width="0.5" fill="none"/>
<path d="M330.57 113.10H334.77M332.67 111.00V115.20" stroke="#ff0000" stroke-width="0.5" fill="none"/>
<path d="M333.80 112.00H338.00M335.90 109.90V114.10" stroke="#ff0000" stroke-width="0.5" fill="none"/>
<path d="M337.03 110.44H341.23M339.13 108.34V112.54" stroke="#ff0000" stroke-width="0.5" fill="none"/>
<path d="M340.26 108.64H344.46M342.36 106.54V110.74" stroke="#ff0000" stroke-width="0.5" fill="none"/>
<path d="M343.49 106.84H347.69M345.59 104.74V108.94" stroke="#ff0000" stroke-width="0.5" fill="none"/>
<path d="M346.72 105.04H350.92M348.82 102.94V107.14" stroke="#ff0000" stroke-width="0.5" fill="none"/>
<path d="M349.95 103.24H354.15M352.05 101.14V105.34" stroke="#ff0000" stroke-width="0.5" fill="none"/>
<path d="M353.18 100.84H357.38M355.28 98.74V102.94" stroke="#ff0000" stroke-width="0.5" fill="none"/>
<path d="M356.41 96.64H360.61M358.51 94.54V98.74" stroke="#ff0000" stroke-width="0.5" fill="none"/>
<path d="M359.64 93.64H363.84M361.74 91.54V95.74" stroke="#ff0000" stroke-width="0.5" fill="none"/>
<path d="M362.87 91.24H367.07M364.97 89.14V93.34" stroke="#ff0000" stroke-width="0.5" fill="none"/>
<path d="M366.10 89.56H370.30M368.20 87.46V91.66" stroke="#ff0000" stroke-width="0.5" fill="none"/>
<path d="M369.33 88.12H373.53M371.43 86.02V90.22" stroke="#ff0000" stroke-width="0.5" fill="none"/>
<path d="M372.56 87.16H376.76M374.66 85.06V89.26" stroke="#ff0000" stroke-width="0.5" fill="none"/>
<path d="M375.79 86.32H379.99M377.89 84.22V88.42" stroke="#ff0000" stroke-width="0.5" fill="none"/>
<path d="M379.02 85.72H383.22M381.12 83.62V87.82" stroke="#ff0000" stroke-width="0.5" fill="none"/>
<path d="M382.25 85.12H386.45M384.35 83.02V87.22" stroke="#ff0000" stroke-width="0.5" fill="none"/>
<path d="M385.48 84.52H389.68M387.58 82.42V86.62" stroke="#ff0000" stroke-width="0.5" fill="none"/>
<path d="M388.71 84.16H392.91M390.81 82.06V86.26" stroke="#ff0000" stroke-width="0.5" fill="none"/>
<path d="M391.94 83.80H396.14M394.04 81.70V85.90" stroke="#ff0000" stroke-width="0.5" fill="none"/>
<path d="M395.17 83.56H399.37M397.27 81.46V85.66" stroke="#ff0000" stroke-width="0.5" fill="none"/>
<path d="M398.40 83.32H402.60M400.50 81.22V85.42" stroke="#ff0000" stroke-width="0.5" fill="none"/>
<polyline points="239.00,127.90 242.23,127.90 245.46,127.91 248.69,127.91 251.92,127.91 255.15,127.92 258.38,127.92 261.61,127.92 264.84,127.92 268.07,127.93 271.30,127.93 274.53,127.93 277.76,127.94 280.99,127.94 284.22,127.94 287.45,127.95 290.68,127.95 293.91,127.95 297.14,127.95 300.37,127.96 303.60,127.96 306.83,127.97 310.06,127.98 313.29,127.98 316.52,127.99 319.75,128.00 322.98,128.01 326.21,128.02 329.44,128.02 332.67,128.03 335.90,128.04 339.13,128.05 342.36,128.06 345.59,128.06 348.82,128.07 352.05,128.08 355.28,128.09 358.51,128.10 361.74,128.10 364.97,128.11 368.20,128.12 371.43,128.13 374.66,128.14 377.89,128.14 381.12,128.15 384.35,128.16 387.58,128.17 390.81,128.18 394.04,128.18 397.27,128.19 400.50,128.20" fill="none" stroke="#00ee00" stroke-width="0.75" stroke-dasharray="2.0,1.0"/>
<path d="M237.05 125.95L240.95 129.85M237.05 129.85L240.95 125.95" stroke="#00ee00" stroke-width="0.62" fill="none"/>
<path d="M240.28 125.95L244.18 129.85M240.28 129.85L244.18 125.95" stroke="#00ee00" stroke-width="0.62" fill="none"/>
<path d="M243.51 125.96L247.41 129.86M243.51 129.86L247.41 125.96" stroke="#00ee00" stroke-width="0.62" fill="none"/>
<path d="M246.74 125.96L250.64 129.86M246.74 129.86L250.64 125.96" stroke="#00ee00" stroke-width="0.62" fill="none"/>
<path d="M249.97 125.96L253.87 129.86M249.97 129.86L253.87 125.96" stroke="#00ee00" stroke-width="0.62" fill="none"/>
<path d="M253.20 125.97L257.10 129.87M253.20 129.87L257.10 125.97" stroke="#00ee00" stroke-width="0.62" fill="none"/>
<path d="M256.43 125.97L260.33 129.87M256.43 129.87L260.33 125.97" stroke="#00ee00" stroke-width="0.62" fill="none"/>
<path d="M259.66 125.97L263.56 129.87M259.66 129.87L263.56 125.97" stroke="#00ee00" stroke-width="0.62" fill="none"/>
<path d="M262.89 125.97L266.79 129.87M262.89 129.87L266.79 125.97" stroke="#00ee00" stroke-width="0.62" fill="none"/>
<path d="M266.12 125.98L270.02 129.88M266.12 129.88L270.02 125.98" stroke="#00ee00" stroke-width="0.62" fill="none"/>
<path d="M269.35 125.98L273.25 129.88M269.35 129.88L273.25 125.98" stroke="#00ee00" stroke-width="0.62" fill="none"/>
<path d="M272.58 125.98L276.48 129.88M272.58 129.88L276.48 125.98" stroke="#00ee00" stroke-width="0.62" fill="none"/>
<path d="M275.81 125.99L279.71 129.89M275.81 129.89L279.71 125.99" stroke="#00ee00" stroke-width="0.62" fill="none"/>
<path d="M279.04 125.99L282.94 129.89M279.04 129.89L282.94 125.99" stroke="#00ee00" stroke-width="0.62" fill="none"/>
<path d="M282.27 125.99L286.17 129.89M282.27 129.89L286.17 125.99" stroke="#00ee00" stroke-width="0.62" fill="none"/>
<path d="M285.50 126.00L289.40 129.90M285.50 129.90L289.40 126.00" stroke="#00ee00" stroke-width="0.62" fill="none"/>
<path d="M288.73 126.00L292.63 129.90M288.73 129.90L292.63 126.00" stroke="#00ee00" stroke-width="0.62" fill="none"/>
<path d="M291.96 126.00L295.86 129.90M291.96 129.90L295.86 126.00" stroke="#00ee00" stroke-width="0.62" fill="none"/>
<path d="M295.19 126.00L299.09 129.90M295.19 129.90L299.09 126.00" stroke="#00ee00" stroke-width="0.62" fill="none"/>
<path d="M298.42 126.01L302.32 129.91M298.42 129.91L302.32 126.01" stroke="#00ee00" stroke-width="0.62" fill="none"/>
<path d="M301.65 126.01L305.55 129.91M301.65 129.91L305.55 126.01" stroke="#00ee00" stroke-width="0.62" fill="none"/>
<path d="M304.88 126.02L308.78 129.92M304.88 129.92L308.78 126.02" stroke="#00ee00" stroke-width="0.62" fill="none"/>
<path d="M308.11 126.03L312.01 129.93M308.11 129.93L312.01 126.03" stroke="#00ee00" stroke-width="0.62" fill="none"/>
<path d="M311.34 126.03L315.24 129.93M311.34 129.93L315.24 126.03" stroke="#00ee00" stroke-width="0.62" fill="none"/>
<path d="M314.57 126.04L318.47 129.94M314.57 129.94L318.47 126.04" stroke="#00ee00" stroke-width="0.62" fill="none"/>
<path d="M317.80 126.05L321.70 129.95M317.80 129.95L321.70 126.05" stroke="#00ee00" stroke-width="0.62" fill="none"/>
<path d="M321.03 126.06L324.93 129.96M321.03 129.96L324.93 126.06" stroke="#00ee00" stroke-width="0.62" fill="none"/>
<path d="M324.26 126.07L328.16 129.97M324.26 129.97L328.16 126.07" stroke="#00ee00" stroke-width="0.62" fill="none"/>
<path d="M327.49 126.07L331.39 129.97M327.49 129.97L331.39 126.07" stroke="#00ee00" stroke-width="0.62" fill="none"/>
<path d="M330.72 126.08L334.62 129.98M330.72 129.98L334.62 126.08" stroke="#00ee00" stroke-width="0.62" fill="none"/>
<path d="M333.95 126.09L337.85 129.99M333.95 129.99L337.85 126.09" stroke="#00ee00" stroke-width="0.62" fill="none"/>
<path d="M337.18 126.10L341.08 130.00M337.18 130.00L341.08 126.10" stroke="#00ee00" stroke-width="0.62" fill="none"/>
<path d="M340.41 126.11L344.31 130.01M340.41 130.01L344.31 126.11" stroke="#00ee00" stroke-width="0.62" fill="none"/>
<path d="M343.64 126.11L347.54 130.01M343.64 130.01L347.54 126.11" stroke="#00ee00" stroke-width="0.62" fill="none"/>
<path d="M346.87 126.12L350.77 130.02M346.87 130.02L350.77 126.12" stroke="#00ee00" stroke-width="0.62" fill="none"/>
<path d="M350.10 126.13L354.00 130.03M350.10 130.03L354.00 126.13" stroke="#00ee00" stroke-width="0.62" fill="none"/>
<path d="M353.33 126.14L357.23 130.04M353.33 130.04L357.23 126.14" stroke="#00ee00" stroke-width="0.62" fill="none"/>
<path d="M356.56 126.15L360.46 130.05M356.56 130.05L360.46 126.15" stroke="#00ee00" stroke-width="0.62" fill="none"/>
<path d="M359.79 126.15L363.69 130.05M359.79 130.05L363.69 126.15" stroke="#00ee00" stroke-width="0.62" fill="none"/>
<path d="M363.02 126.16L366.92 130.06M363.02 130.06L366.92 126.16" stroke="#00ee00" stroke-width="0.62" fill="none"/>
<path d="M366.25 126.17L370.15 130.07M366.25 130.07L370.15 126.17" stroke="#00ee00" stroke-width="0.62" fill="none"/>
<path d="M369.48 126.18L373.38 130.08M369.48 130.08L373.38 126.18" stroke="#00ee00" stroke-width="0.62" fill="none"/>
<path d="M372.71 126.19L376.61 130.09M372.71 130.09L376.61 126.19" stroke="#00ee00" stroke-width="0.62" fill="none"/>
<path d="M375.94 126.19L379.84 130.09M375.94 130.09L379.84 126.19" stroke="#00ee00" stroke-width="0.62" fill="none"/>
<path d="M379.17 126.20L383.07 130.10M379.17 130.10L383.07 126.20" stroke="#00ee00" stroke-width="0.62" fill="none"/>
<path d="M382.40 126.21L386.30 130.11M382.40 130.11L386.30 126.21" stroke="#00ee00" stroke-width="0.62" fill="none"/>
<path d="M385.63 126.22L389.53 130.12M385.63 130.12L389.53 126.22" stroke="#00ee00" stroke-width="0.62" fill="none"/>
<path d="M388.86 126.23L392.76 130.13M388.86 130.13L392.76 126.23" stroke="#00ee00" stroke-width="0.62" fill="none"/>
<path d="M392.09 126.23L395.99 130.13M392.09 130.13L395.99 126.23" stroke="#00ee00" stroke-width="0.62" fill="none"/>
<path d="M395.32 126.24L399.22 130.14M395.32 130.14L399.22 126.24" stroke="#00ee00" stroke-width="0.62" fill="none"/>
<path d="M398.55 126.25L402.45 130.15M398.55 130.15L402.45 126.25" stroke="#00ee00" stroke-width="0.62" fill="none"/>
<polyline points="239.00,83.56 242.23,83.51 245.46,83.46 248.69,83.42 251.92,83.36 255.15,83.28 258.38,83.17 261.61,83.03 264.84,82.89 268.07,82.73 271.30,82.55 274.53,82.30 277.76,82.02 280.99,81.74 284.22,81.44 287.45,81.12 290.68,80.77 293.91,80.39 297.14,80.01 300.37,79.62 303.60,79.19 306.83,78.70 310.06,78.18 313.29,77.66 316.52,77.11 319.75,76.51 322.98,75.82 326.21,75.06 329.44,74.30 332.67,73.50 335.90,72.76 339.13,71.56 342.36,70.36 345.59,69.04 348.82,67.84 352.05,66.28 355.28,64.24 358.51,60.28 361.74,58.36 364.97,57.88 368.20,57.76 371.43,57.76 374.66,57.76 377.89,57.88 381.12,58.00 384.35,58.12 387.58,58.24 390.81,58.36 394.04,58.48 397.27,58.60 400.50,58.72" fill="none" stroke="#0000ff" stroke-width="0.5" stroke-dasharray="1.1,1.1"/>
<path d="M237.10 81.66L240.90 85.46M237.10 85.46L240.90 81.66M237.10 83.56H240.90M239.00 81.66V85.46" stroke="#0000ff" stroke-width="0.55" fill="none"/>
<path d="M240.33 81.61L244.13 85.41M240.33 85.41L244.13 81.61M240.33 83.51H244.13M242.23 81.61V85.41" stroke="#0000ff" stroke-width="0.55" fill="none"/>
<path d="M243.56 81.56L247.36 85.36M243.56 85.36L247.36 81.56M243.56 83.46H247.36M245.46 81.56V85.36" stroke="#0000ff" stroke-width="0.55" fill="none"/>
<path d="M246.79 81.52L250.59 85.32M246.79 85.32L250.59 81.52M246.79 83.42H250.59M248.69 81.52V85.32" stroke="#0000ff" stroke-width="0.55" fill="none"/>
<path d="M250.02 81.46L253.82 85.26M250.02 85.26L253.82 81.46M250.02 83.36H253.82M251.92 81.46V85.26" stroke="#0000ff" stroke-width="0.55" fill="none"/>
<path d="M253.25 81.38L257.05 85.18M253.25 85.18L257.05 81.38M253.25 83.28H257.05M255.15 81.38V85.18" stroke="#0000ff" stroke-width="0.55" fill="none"/>
<path d="M256.48 81.27L260.28 85.07M256.48 85.07L260.28 81.27M256.48 83.17H260.28M258.38 81.27V85.07" stroke="#0000ff" stroke-width="0.55" fill="none"/>
<path d="M259.71 81.13L263.51 84.93M259.71 84.93L263.51 81.13M259.71 83.03H263.51M261.61 81.13V84.93" stroke="#0000ff" stroke-width="0.55" fill="none"/>
<path d="M262.94 80.99L266.74 84.79M262.94 84.79L266.74 80.99M262.94 82.89H266.74M264.84 80.99V84.79" stroke="#0000ff" stroke-width="0.55" fill="none"/>
<path d="M266.17 80.83L269.97 84.64M266.17 84.64L269.97 80.83M266.17 82.73H269.97M268.07 80.83V84.64" stroke="#0000ff" stroke-width="0.55" fill="none"/>
<path d="M269.40 80.65L273.20 84.45M269.40 84.45L273.20 80.65M269.40 82.55H273.20M271.30 80.65V84.45" stroke="#0000ff" stroke-width="0.55" fill="none"/>
<path d="M272.63 80.40L276.43 84.20M272.63 84.20L276.43 80.40M272.63 82.30H276.43M274.53 80.40V84.20" stroke="#0000ff" stroke-width="0.55" fill="none"/>
<path d="M275.86 80.12L279.66 83.92M275.86 83.92L279.66 80.12M275.86 82.02H279.66M277.76 80.12V83.92" stroke="#0000ff" stroke-width="0.55" fill="none"/>
<path d="M279.09 79.84L282.89 83.64M279.09 83.64L282.89 79.84M279.09 81.74H282.89M280.99 79.84V83.64" stroke="#0000ff" stroke-width="0.55" fill="none"/>
<path d="M282.32 79.54L286.12 83.34M282.32 83.34L286.12 79.54M282.32 81.44H286.12M284.22 79.54V83.34" stroke="#0000ff" stroke-width="0.55" fill="none"/>
<path d="M285.55 79.22L289.35 83.02M285.55 83.02L289.35 79.22M285.55 81.12H289.35M287.45 79.22V83.02" stroke="#0000ff" stroke-width="0.55" fill="none"/>
<path d="M288.78 78.87L292.58 82.67M288.78 82.67L292.58 78.87M288.78 80.77H292.58M290.68 78.87V82.67" stroke="#0000ff" stroke-width="0.55" fill="none"/>
<path d="M292.01 78.49L295.81 82.29M292.01 82.29L295.81 78.49M292.01 80.39H295.81M293.91 78.49V82.29" stroke="#0000ff" stroke-width="0.55" fill="none"/>
<path d="M295.24 78.11L299.04 81.91M295.24 81.91L299.04 78.11M295.24 80.01H299.04M297.14 78.11V81.91" stroke="#0000ff" stroke-width="0.55" fill="none"/>
<path d="M298.47 77.72L302.27 81.52M298.47 81.52L302.27 77.72M298.47 79.62H302.27M300.37 77.72V81.52" stroke="#0000ff" stroke-width="0.55" fill="none"/>
<path d="M301.70 77.29L305.50 81.09M301.70 81.09L305.50 77.29M301.70 79.19H305.50M303.60 77.29V81.09" stroke="#0000ff" stroke-width="0.55" fill="none"/>
<path d="M304.93 76.80L308.73 80.60M304.93 80.60L308.73 76.80M304.93 78.70H308.73M306.83 76.80V80.60" stroke="#0000ff" stroke-width="0.55" fill="none"/>
<path d="M308.16 76.28L311.96 80.08M308.16 80.08L311.96 76.28M308.16 78.18H311.96M310.06 76.28V80.08" stroke="#0000ff" stroke-width="0.55" fill="none"/>
<path d="M311.39 75.76L315.19 79.56M311.39 79.56L315.19 75.76M311.39 77.66H315.19M313.29 75.76V79.56" stroke="#0000ff" stroke-width="0.55" fill="none"/>
<path d="M314.62 75.21L318.42 79.01M314.62 79.01L318.42 75.21M314.62 77.11H318.42M316.52 75.21V79.01" stroke="#0000ff" stroke-width="0.55" fill="none"/>
<path d="M317.85 74.61L321.65 78.41M317.85 78.41L321.65 74.61M317.85 76.51H321.65M319.75 74.61V78.41" stroke="#0000ff" stroke-width="0.55" fill="none"/>
<path d="M321.08 73.92L324.88 77.72M321.08 77.72L324.88 73.92M321.08 75.82H324.88M322.98 73.92V77.72" stroke="#0000ff" stroke-width="0.55" fill="none"/>
<path d="M324.31 73.16L328.11 76.96M324.31 76.96L328.11 73.16M324.31 75.06H328.11M326.21 73.16V76.96" stroke="#0000ff" stroke-width="0.55" fill="none"/>
<path d="M327.54 72.40L331.34 76.20M327.54 76.20L331.34 72.40M327.54 74.30H331.34M329.44 72.40V76.20" stroke="#0000ff" stroke-width="0.55" fill="none"/>
<path d="M330.77 71.60L334.57 75.40M330.77 75.40L334.57 71.60M330.77 73.50H334.57M332.67 71.60V75.40" stroke="#0000ff" stroke-width="0.55" fill="none"/>
<path d="M334.00 70.86L337.80 74.66M334.00 74.66L337.80 70.86M334.00 72.76H337.80M335.90 70.86V74.66" stroke="#0000ff" stroke-width="0.55" fill="none"/>
<path d="M337.23 69.66L341.03 73.46M337.23 73.46L341.03 69.66M337.23 71.56H341.03M339.13 69.66V73.46" stroke="#0000ff" stroke-width="0.55" fill="none"/>
<path d="M340.46 68.46L344.26 72.26M340.46 72.26L344.26 68.46M340.46 70.36H344.26M342.36 68.46V72.26" stroke="#0000ff" stroke-width="0.55" fill="none"/>
<path d="M343.69 67.14L347.49 70.94M343.69 70.94L347.49 67.14M343.69 69.04H347.49M345.59 67.14V70.94" stroke="#0000ff" stroke-width="0.55" fill="none"/>
<path d="M346.92 65.94L350.72 69.74M346.92 69.74L350.72 65.94M346.92 67.84H350.72M348.82 65.94V69.74" stroke="#0000ff" stroke-width="0.55" fill="none"/>
<path d="M350.15 64.38L353.95 68.18M350.15 68.18L353.95 64.38M350.15 66.28H353.95M352.05 64.38V68.18" stroke="#0000ff" stroke-width="0.55" fill="none"/>
<path d="M353.38 62.34L357.18 66.14M353.38 66.14L357.18 62.34M353.38 64.24H357.18M355.28 62.34V66.14" stroke="#0000ff" stroke-width="0.55" fill="none"/>
<path d="M356.61 58.38L360.41 62.18M356.61 62.18L360.41 58.38M356.61 60.28H360.41M358.51 58.38V62.18" stroke="#0000ff" stroke-width="0.55" fill="none"/>
<path d="M359.84 56.46L363.64 60.26M359.84 60.26L363.64 56.46M359.84 58.36H363.64M361.74 56.46V60.26" stroke="#0000ff" stroke-width="0.55" fill="none"/>
<path d="M363.07 55.98L366.87 59.78M363.07 59.78L366.87 55.98M363.07 57.88H366.87M364.97 55.98V59.78" stroke="#0000ff" stroke-width="0.55" fill="none"/>
<path d="M366.30 55.86L370.10 59.66M366.30 59.66L370.10 55.86M366.30 57.76H370.10M368.20 55.86V59.66" stroke="#0000ff" stroke-width="0.55" fill="none"/>
<path d="M369.53 55.86L373.33 59.66M369.53 59.66L373.33 55.86M369.53 57.76H373.33M371.43 55.86V59.66" stroke="#0000ff" stroke-width="0.55" fill="none"/>
<path d="M372.76 55.86L376.56 59.66M372.76 59.66L376.56 55.86M372.76 57.76H376.56M374.66 55.86V59.66" stroke="#0000ff" stroke-width="0.55" fill="none"/>
<path d="M375.99 55.98L379.79 59.78M375.99 59.78L379.79 55.98M375.99 57.88H379.79M377.89 55.98V59.78" stroke="#0000ff" stroke-width="0.55" fill="none"/>
<path d="M379.22 56.10L383.02 59.90M379.22 59.90L383.02 56.10M379.22 58.00H383.02M381.12 56.10V59.90" stroke="#0000ff" stroke-width="0.55" fill="none"/>
<path d="M382.45 56.22L386.25 60.02M382.45 60.02L386.25 56.22M382.45 58.12H386.25M384.35 56.22V60.02" stroke="#0000ff" stroke-width="0.55" fill="none"/>
<path d="M385.68 56.34L389.48 60.14M385.68 60.14L389.48 56.34M385.68 58.24H389.48M387.58 56.34V60.14" stroke="#0000ff" stroke-width="0.55" fill="none"/>
<path d="M388.91 56.46L392.71 60.26M388.91 60.26L392.71 56.46M388.91 58.36H392.71M390.81 56.46V60.26" stroke="#0000ff" stroke-width="0.55" fill="none"/>
<path d="M392.14 56.58L395.94 60.38M392.14 60.38L395.94 56.58M392.14 58.48H395.94M394.04 56.58V60.38" stroke="#0000ff" stroke-width="0.55" fill="none"/>
<path d="M395.37 56.70L399.17 60.50M395.37 60.50L399.17 56.70M395.37 58.60H399.17M397.27 56.70V60.50" stroke="#0000ff" stroke-width="0.55" fill="none"/>
<path d="M398.60 56.82L402.40 60.62M398.60 60.62L402.40 56.82M398.60 58.72H402.40M400.50 56.82V60.62" stroke="#0000ff" stroke-width="0.55" fill="none"/>
<polyline points="239.00,58.12 242.23,58.22 245.46,58.31 248.69,58.41 251.92,58.52 255.15,58.72 258.38,59.03 261.61,59.42 264.84,59.82 268.07,60.25 271.30,60.74 274.53,61.33 277.76,61.98 280.99,62.66 284.22,63.34 287.45,64.05 290.68,64.80 293.91,65.58 297.14,66.38 300.37,67.18 303.60,68.06 306.83,69.03 310.06,70.07 313.29,71.13 316.52,72.24 319.75,73.55 322.98,75.16 326.21,76.98 329.44,78.86 332.67,80.77 335.90,82.60 339.13,85.12 342.36,87.88 345.59,90.28 348.82,93.16 352.05,97.24 355.28,101.80 358.51,109.96 361.74,115.36 364.97,118.36 368.20,120.16 371.43,121.36 374.66,122.32 377.89,123.16 381.12,123.76 384.35,124.36 387.58,124.84 390.81,125.20 394.04,125.44 397.27,125.68 400.50,125.80" fill="none" stroke="#ff00ff" stroke-width="0.5" stroke-dasharray="1.6,0.8,0.5,0.8"/>
<rect x="237.25" y="56.37" width="3.50" height="3.50" stroke="#ff00ff" stroke-width="0.5" fill="none"/>
<rect x="240.48" y="56.47" width="3.50" height="3.50" stroke="#ff00ff" stroke-width="0.5" fill="none"/>
<rect x="243.71" y="56.56" width="3.50" height="3.50" stroke="#ff00ff" stroke-width="0.5" fill="none"/>
<rect x="246.94" y="56.66" width="3.50" height="3.50" stroke="#ff00ff" stroke-width="0.5" fill="none"/>
<rect x="250.17" y="56.77" width="3.50" height="3.50" stroke="#ff00ff" stroke-width="0.5" fill="none"/>
<rect x="253.40" y="56.97" width="3.50" height="3.50" stroke="#ff00ff" stroke-width="0.5" fill="none"/>
<rect x="256.63" y="57.28" width="3.50" height="3.50" stroke="#ff00ff" stroke-width="0.5" fill="none"/>
<rect x="259.86" y="57.67" width="3.50" height="3.50" stroke="#ff00ff" stroke-width="0.5" fill="none"/>
<rect x="263.09" y="58.07" width="3.50" height="3.50" stroke="#ff00ff" stroke-width="0.5" fill="none"/>
<rect x="266.32" y="58.50" width="3.50" height="3.50" stroke="#ff00ff" stroke-width="0.5" fill="none"/>
<rect x="269.55" y="58.99" width="3.50" height="3.50" stroke="#ff00ff" stroke-width="0.5" fill="none"/>
<rect x="272.78" y="59.58" width="3.50" height="3.50" stroke="#ff00ff" stroke-width="0.5" fill="none"/>
<rect x="276.01" y="60.23" width="3.50" height="3.50" stroke="#ff00ff" stroke-width="0.5" fill="none"/>
<rect x="279.24" y="60.91" width="3.50" height="3.50" stroke="#ff00ff" stroke-width="0.5" fill="none"/>
<rect x="282.47" y="61.59" width="3.50" height="3.50" stroke="#ff00ff" stroke-width="0.5" fill="none"/>
<rect x="285.70" y="62.30" width="3.50" height="3.50" stroke="#ff00ff" stroke-width="0.5" fill="none"/>
<rect x="288.93" y="63.05" width="3.50" height="3.50" stroke="#ff00ff" stroke-width="0.5" fill="none"/>
<rect x="292.16" y="63.83" width="3.50" height="3.50" stroke="#ff00ff" stroke-width="0.5" fill="none"/>
<rect x="295.39" y="64.63" width="3.50" height="3.50" stroke="#ff00ff" stroke-width="0.5" fill="none"/>
<rect x="298.62" y="65.43" width="3.50" height="3.50" stroke="#ff00ff" stroke-width="0.5" fill="none"/>
<rect x="301.85" y="66.31" width="3.50" height="3.50" stroke="#ff00ff" stroke-width="0.5" fill="none"/>
<rect x="305.08" y="67.28" width="3.50" height="3.50" stroke="#ff00ff" stroke-width="0.5" fill="none"/>
<rect x="308.31" y="68.32" width="3.50" height="3.50" stroke="#ff00ff" stroke-width="0.5" fill="none"/>
<rect x="311.54" y="69.38" width="3.50" height="3.50" stroke="#ff00ff" stroke-width="0.5" fill="none"/>
<rect x="314.77" y="70.49" width="3.50" height="3.50" stroke="#ff00ff" stroke-width="0.5" fill="none"/>
<rect x="318.00" y="71.80" width="3.50" height="3.50" stroke="#ff00ff" stroke-width="0.5" fill="none"/>
<rect x="321.23" y="73.41" width="3.50" height="3.50" stroke="#ff00ff" stroke-width="0.5" fill="none"/>
<rect x="324.46" y="75.23" width="3.50" height="3.50" stroke="#ff00ff" stroke-width="0.5" fill="none"/>
<rect x="327.69" y="77.11" width="3.50" height="3.50" stroke="#ff00ff" stroke-width="0.5" fill="none"/>
<rect x="330.92" y="79.02" width="3.50" height="3.50" stroke="#ff00ff" stroke-width="0.5" fill="none"/>
<rect x="334.15" y="80.85" width="3.50" height="3.50" stroke="#ff00ff" stroke-width="0.5" fill="none"/>
<rect x="337.38" y="83.37" width="3.50" height="3.50" stroke="#ff00ff" stroke-width="0.5" fill="none"/>
<rect x="340.61" y="86.13" width="3.50" height="3.50" stroke="#ff00ff" stroke-width="0.5" fill="none"/>
<rect x="343.84" y="88.53" width="3.50" height="3.50" stroke="#ff00ff" stroke-width="0.5" fill="none"/>
<rect x="347.07" y="91.41" width="3.50" height="3.50" stroke="#ff00ff" stroke-width="0.5" fill="none"/>
<rect x="350.30" y="95.49" width="3.50" height="3.50" stroke="#ff00ff" stroke-width="0.5" fill="none"/>
<rect x="353.53" y="100.05" width="3.50" height="3.50" stroke="#ff00ff" stroke-width="0.5" fill="none"/>
<rect x="356.76" y="108.21" width="3.50" height="3.50" stroke="#ff00ff" stroke-width="0.5" fill="none"/>
<rect x="359.99" y="113.61" width="3.50" height="3.50" stroke="#ff00ff" stroke-width="0.5" fill="none"/>
<rect x="363.22" y="116.61" width="3.50" height="3.50" stroke="#ff00ff" stroke-width="0.5" fill="none"/>
<rect x="366.45" y="118.41" width="3.50" height="3.50" stroke="#ff00ff" stroke-width="0.5" fill="none"/>
<rect x="369.68" y="119.61" width="3.50" height="3.50" stroke="#ff00ff" stroke-width="0.5" fill="none"/>
<rect x="372.91" y="120.57" width="3.50" height="3.50" stroke="#ff00ff" stroke-width="0.5" fill="none"/>
<rect x="376.14" y="121.41" width="3.50" height="3.50" stroke="#ff00ff" stroke-width="0.5" fill="none"/>
<rect x="379.37" y="122.01" width="3.50" height="3.50" stroke="#ff00ff" stroke-width="0.5" fill="none"/>
<rect x="382.60" y="122.61" width="3.50" height="3.50" stroke="#ff00ff" stroke-width="0.5" fill="none"/>
<rect x="385.83" y="123.09" width="3.50" height="3.50" stroke="#ff00ff" stroke-width="0.5" fill="none"/>
<rect x="389.06" y="123.45" width="3.50" height="3.50" stroke="#ff00ff" stroke-width="0.5" fill="none"/>
<rect x="392.29" y="123.69" width="3.50" height="3.50" stroke="#ff00ff" stroke-width="0.5" fill="none"/>
<rect x="395.52" y="123.93" width="3.50" height="3.50" stroke="#ff00ff" stroke-width="0.5" fill="none"/>
<rect x="398.75" y="124.05" width="3.50" height="3.50" stroke="#ff00ff" stroke-width="0.5" fill="none"/>
<text x="352.00" y="37.10" font-size="14.4">D</text><text transform="translate(361.60,41.50) scale(1.05,1)" font-size="12">x</text><text transform="translate(367.50,37.10) scale(1.12,1)" font-size="14.4">=</text><text x="376.60" y="37.10" font-size="14.4">1.3</text>
<rect x="31.5" y="155.1" width="161.5" height="108.00000000000003" fill="none" stroke="#505050" stroke-width="0.7"/>
<path d="M31.50 263.1v-3.4M31.50 155.1v3.4M31.5 263.10h3.4M193.0 263.10h-3.4M63.80 263.1v-3.4M63.80 155.1v3.4M31.5 241.50h3.4M193.0 241.50h-3.4M96.10 263.1v-3.4M96.10 155.1v3.4M31.5 219.90h3.4M193.0 219.90h-3.4M128.40 263.1v-3.4M128.40 155.1v3.4M31.5 198.30h3.4M193.0 198.30h-3.4M160.70 263.1v-3.4M160.70 155.1v3.4M31.5 176.70h3.4M193.0 176.70h-3.4M193.00 263.1v-3.4M193.00 155.1v3.4M31.5 155.10h3.4M193.0 155.10h-3.4" stroke="#555" stroke-width="0.5" fill="none"/>
<text x="32.70" y="276.00" font-size="11.8" text-anchor="middle">0</text>
<text x="65.00" y="276.00" font-size="11.8" text-anchor="middle">1</text>
<text x="97.30" y="276.00" font-size="11.8" text-anchor="middle">2</text>
<text x="129.60" y="276.00" font-size="11.8" text-anchor="middle">3</text>
<text x="161.90" y="276.00" font-size="11.8" text-anchor="middle">4</text>
<text x="194.20" y="276.00" font-size="11.8" text-anchor="middle">5</text>
<text x="26.50" y="267.30" font-size="11.8" text-anchor="end">0</text>
<text x="26.50" y="245.70" font-size="11.8" text-anchor="end">0.2</text>
<text x="26.50" y="224.10" font-size="11.8" text-anchor="end">0.4</text>
<text x="26.50" y="202.50" font-size="11.8" text-anchor="end">0.6</text>
<text x="26.50" y="180.90" font-size="11.8" text-anchor="end">0.8</text>
<text x="26.50" y="159.30" font-size="11.8" text-anchor="end">1</text>
<polyline points="31.50,259.34 34.73,259.30 37.96,259.30 41.19,259.34 44.42,259.33 47.65,259.26 50.88,259.18 54.11,259.13 57.34,259.02 60.57,258.86 63.80,258.70 67.03,258.53 70.26,258.28 73.49,257.98 76.72,257.71 79.95,257.42 83.18,256.99 86.41,256.47 89.64,255.97 92.87,255.51 96.10,254.96 99.33,254.32 102.56,253.68 105.79,253.08 109.02,252.42 112.25,251.57 115.48,250.77 118.71,250.14 121.94,249.28 125.17,248.17 128.40,247.33 131.63,246.25 134.86,244.85 138.09,243.01 141.32,241.39 144.55,239.77 147.78,237.29 151.01,234.05 154.24,232.54 157.47,230.18 160.70,228.35 163.93,226.90 167.16,225.82 170.39,225.00 173.62,224.24 176.85,223.55 180.08,222.90 183.31,222.41 186.54,221.97 189.77,221.50 193.00,221.17" fill="none" stroke="#ff0000" stroke-width="0.5"/>
<path d="M29.40 259.34H33.60M31.50 257.24V261.44" stroke="#ff0000" stroke-width="0.5" fill="none"/>
<path d="M32.63 259.30H36.83M34.73 257.20V261.40" stroke="#ff0000" stroke-width="0.5" fill="none"/>
<path d="M35.86 259.30H40.06M37.96 257.20V261.40" stroke="#ff0000" stroke-width="0.5" fill="none"/>
<path d="M39.09 259.34H43.29M41.19 257.24V261.44" stroke="#ff0000" stroke-width="0.5" fill="none"/>
<path d="M42.32 259.33H46.52M44.42 257.23V261.43" stroke="#ff0000" stroke-width="0.5" fill="none"/>
<path d="M45.55 259.26H49.75M47.65 257.16V261.36" stroke="#ff0000" stroke-width="0.5" fill="none"/>
<path d="M48.78 259.18H52.98M50.88 257.08V261.28" stroke="#ff0000" stroke-width="0.5" fill="none"/>
<path d="M52.01 259.13H56.21M54.11 257.03V261.23" stroke="#ff0000" stroke-width="0.5" fill="none"/>
<path d="M55.24 259.02H59.44M57.34 256.92V261.12" stroke="#ff0000" stroke-width="0.5" fill="none"/>
<path d="M58.47 258.86H62.67M60.57 256.76V260.96" stroke="#ff0000" stroke-width="0.5" fill="none"/>
<path d="M61.70 258.70H65.90M63.80 256.60V260.80" stroke="#ff0000" stroke-width="0.5" fill="none"/>
<path d="M64.93 258.53H69.13M67.03 256.43V260.63" stroke="#ff0000" stroke-width="0.5" fill="none"/>
<path d="M68.16 258.28H72.36M70.26 256.18V260.38" stroke="#ff0000" stroke-width="0.5" fill="none"/>
<path d="M71.39 257.98H75.59M73.49 255.88V260.08" stroke="#ff0000" stroke-width="0.5" fill="none"/>
<path d="M74.62 257.71H78.82M76.72 255.61V259.81" stroke="#ff0000" stroke-width="0.5" fill="none"/>
<path d="M77.85 257.42H82.05M79.95 255.32V259.52" stroke="#ff0000" stroke-width="0.5" fill="none"/>
<path d="M81.08 256.99H85.28M83.18 254.89V259.09" stroke="#ff0000" stroke-width="0.5" fill="none"/>
<path d="M84.31 256.47H88.51M86.41 254.37V258.57" stroke="#ff0000" stroke-width="0.5" fill="none"/>
<path d="M87.54 255.97H91.74M89.64 253.87V258.07" stroke="#ff0000" stroke-width="0.5" fill="none"/>
<path d="M90.77 255.51H94.97M92.87 253.41V257.61" stroke="#ff0000" stroke-width="0.5" fill="none"/>
<path d="M94.00 254.96H98.20M96.10 252.86V257.06" stroke="#ff0000" stroke-width="0.5" fill="none"/>
<path d="M97.23 254.32H101.43M99.33 252.22V256.42" stroke="#ff0000" stroke-width="0.5" fill="none"/>
<path d="M100.46 253.68H104.66M102.56 251.58V255.78" stroke="#ff0000" stroke-width="0.5" fill="none"/>
<path d="M103.69 253.08H107.89M105.79 250.98V255.18" stroke="#ff0000" stroke-width="0.5" fill="none"/>
<path d="M106.92 252.42H111.12M109.02 250.32V254.52" stroke="#ff0000" stroke-width="0.5" fill="none"/>
<path d="M110.15 251.57H114.35M112.25 249.47V253.67" stroke="#ff0000" stroke-width="0.5" fill="none"/>
<path d="M113.38 250.77H117.58M115.48 248.67V252.87" stroke="#ff0000" stroke-width="0.5" fill="none"/>
<path d="M116.61 250.14H120.81M118.71 248.04V252.24" stroke="#ff0000" stroke-width="0.5" fill="none"/>
<path d="M119.84 249.28H124.04M121.94 247.18V251.38" stroke="#ff0000" stroke-width="0.5" fill="none"/>
<path d="M123.07 248.17H127.27M125.17 246.07V250.27" stroke="#ff0000" stroke-width="0.5" fill="none"/>
<path d="M126.30 247.33H130.50M128.40 245.23V249.43" stroke="#ff0000" stroke-width="0.5" fill="none"/>
<path d="M129.53 246.25H133.73M131.63 244.15V248.35" stroke="#ff0000" stroke-width="0.5" fill="none"/>
<path d="M132.76 244.85H136.96M134.86 242.75V246.95" stroke="#ff0000" stroke-width="0.5" fill="none"/>
<path d="M135.99 243.01H140.19M138.09 240.91V245.11" stroke="#ff0000" stroke-width="0.5" fill="none"/>
<path d="M139.22 241.39H143.42M141.32 239.29V243.49" stroke="#ff0000" stroke-width="0.5" fill="none"/>
<path d="M142.45 239.77H146.65M144.55 237.67V241.87" stroke="#ff0000" stroke-width="0.5" fill="none"/>
<path d="M145.68 237.29H149.88M147.78 235.19V239.39" stroke="#ff0000" stroke-width="0.5" fill="none"/>
<path d="M148.91 234.05H153.11M151.01 231.95V236.15" stroke="#ff0000" stroke-width="0.5" fill="none"/>
<path d="M152.14 232.54H156.34M154.24 230.44V234.64" stroke="#ff0000" stroke-width="0.5" fill="none"/>
<path d="M155.37 230.18H159.57M157.47 228.08V232.28" stroke="#ff0000" stroke-width="0.5" fill="none"/>
<path d="M158.60 228.35H162.80M160.70 226.25V230.45" stroke="#ff0000" stroke-width="0.5" fill="none"/>
<path d="M161.83 226.90H166.03M163.93 224.80V229.00" stroke="#ff0000" stroke-width="0.5" fill="none"/>
<path d="M165.06 225.82H169.26M167.16 223.72V227.92" stroke="#ff0000" stroke-width="0.5" fill="none"/>
<path d="M168.29 225.00H172.49M170.39 222.90V227.10" stroke="#ff0000" stroke-width="0.5" fill="none"/>
<path d="M171.52 224.24H175.72M173.62 222.14V226.34" stroke="#ff0000" stroke-width="0.5" fill="none"/>
<path d="M174.75 223.55H178.95M176.85 221.45V225.65" stroke="#ff0000" stroke-width="0.5" fill="none"/>
<path d="M177.98 222.90H182.18M180.08 220.80V225.00" stroke="#ff0000" stroke-width="0.5" fill="none"/>
<path d="M181.21 222.41H185.41M183.31 220.31V224.51" stroke="#ff0000" stroke-width="0.5" fill="none"/>
<path d="M184.44 221.97H188.64M186.54 219.87V224.07" stroke="#ff0000" stroke-width="0.5" fill="none"/>
<path d="M187.67 221.50H191.87M189.77 219.40V223.60" stroke="#ff0000" stroke-width="0.5" fill="none"/>
<path d="M190.90 221.17H195.10M193.00 219.07V223.27" stroke="#ff0000" stroke-width="0.5" fill="none"/>
<polyline points="31.50,259.44 34.73,259.46 37.96,259.51 41.19,259.57 44.42,259.61 47.65,259.64 50.88,259.68 54.11,259.74 57.34,259.78 60.57,259.81 63.80,259.88 67.03,259.98 70.26,260.08 73.49,260.18 76.72,260.28 79.95,260.41 83.18,260.52 86.41,260.61 89.64,260.72 92.87,260.84 96.10,260.95 99.33,261.05 102.56,261.17 105.79,261.31 109.02,261.42 112.25,261.53 115.48,261.64 118.71,261.78 121.94,261.90 125.17,262.00 128.40,262.12 131.63,262.24 134.86,262.35 138.09,262.44 141.32,262.55 144.55,262.68 147.78,262.72 151.01,262.75 154.24,262.79 157.47,262.85 160.70,262.88 163.93,262.88 167.16,262.88 170.39,262.88 173.62,262.88 176.85,262.88 180.08,262.88 183.31,262.88 186.54,262.88 189.77,262.88 193.00,262.88" fill="none" stroke="#00ee00" stroke-width="0.75" stroke-dasharray="2.0,1.0"/>
<path d="M29.55 257.49L33.45 261.39M29.55 261.39L33.45 257.49" stroke="#00ee00" stroke-width="0.62" fill="none"/>
<path d="M32.78 257.51L36.68 261.41M32.78 261.41L36.68 257.51" stroke="#00ee00" stroke-width="0.62" fill="none"/>
<path d="M36.01 257.56L39.91 261.46M36.01 261.46L39.91 257.56" stroke="#00ee00" stroke-width="0.62" fill="none"/>
<path d="M39.24 257.62L43.14 261.52M39.24 261.52L43.14 257.62" stroke="#00ee00" stroke-width="0.62" fill="none"/>
<path d="M42.47 257.66L46.37 261.56M42.47 261.56L46.37 257.66" stroke="#00ee00" stroke-width="0.62" fill="none"/>
<path d="M45.70 257.69L49.60 261.59M45.70 261.59L49.60 257.69" stroke="#00ee00" stroke-width="0.62" fill="none"/>
<path d="M48.93 257.73L52.83 261.63M48.93 261.63L52.83 257.73" stroke="#00ee00" stroke-width="0.62" fill="none"/>
<path d="M52.16 257.79L56.06 261.69M52.16 261.69L56.06 257.79" stroke="#00ee00" stroke-width="0.62" fill="none"/>
<path d="M55.39 257.83L59.29 261.73M55.39 261.73L59.29 257.83" stroke="#00ee00" stroke-width="0.62" fill="none"/>
<path d="M58.62 257.86L62.52 261.76M58.62 261.76L62.52 257.86" stroke="#00ee00" stroke-width="0.62" fill="none"/>
<path d="M61.85 257.93L65.75 261.83M61.85 261.83L65.75 257.93" stroke="#00ee00" stroke-width="0.62" fill="none"/>
<path d="M65.08 258.03L68.98 261.93M65.08 261.93L68.98 258.03" stroke="#00ee00" stroke-width="0.62" fill="none"/>
<path d="M68.31 258.13L72.21 262.03M68.31 262.03L72.21 258.13" stroke="#00ee00" stroke-width="0.62" fill="none"/>
<path d="M71.54 258.23L75.44 262.13M71.54 262.13L75.44 258.23" stroke="#00ee00" stroke-width="0.62" fill="none"/>
<path d="M74.77 258.33L78.67 262.23M74.77 262.23L78.67 258.33" stroke="#00ee00" stroke-width="0.62" fill="none"/>
<path d="M78.00 258.46L81.90 262.36M78.00 262.36L81.90 258.46" stroke="#00ee00" stroke-width="0.62" fill="none"/>
<path d="M81.23 258.57L85.13 262.47M81.23 262.47L85.13 258.57" stroke="#00ee00" stroke-width="0.62" fill="none"/>
<path d="M84.46 258.66L88.36 262.56M84.46 262.56L88.36 258.66" stroke="#00ee00" stroke-width="0.62" fill="none"/>
<path d="M87.69 258.77L91.59 262.67M87.69 262.67L91.59 258.77" stroke="#00ee00" stroke-width="0.62" fill="none"/>
<path d="M90.92 258.89L94.82 262.79M90.92 262.79L94.82 258.89" stroke="#00ee00" stroke-width="0.62" fill="none"/>
<path d="M94.15 259.00L98.05 262.90M94.15 262.90L98.05 259.00" stroke="#00ee00" stroke-width="0.62" fill="none"/>
<path d="M97.38 259.10L101.28 263.00M97.38 263.00L101.28 259.10" stroke="#00ee00" stroke-width="0.62" fill="none"/>
<path d="M100.61 259.22L104.51 263.12M100.61 263.12L104.51 259.22" stroke="#00ee00" stroke-width="0.62" fill="none"/>
<path d="M103.84 259.36L107.74 263.26M103.84 263.26L107.74 259.36" stroke="#00ee00" stroke-width="0.62" fill="none"/>
<path d="M107.07 259.47L110.97 263.37M107.07 263.37L110.97 259.47" stroke="#00ee00" stroke-width="0.62" fill="none"/>
<path d="M110.30 259.58L114.20 263.48M110.30 263.48L114.20 259.58" stroke="#00ee00" stroke-width="0.62" fill="none"/>
<path d="M113.53 259.69L117.43 263.59M113.53 263.59L117.43 259.69" stroke="#00ee00" stroke-width="0.62" fill="none"/>
<path d="M116.76 259.83L120.66 263.73M116.76 263.73L120.66 259.83" stroke="#00ee00" stroke-width="0.62" fill="none"/>
<path d="M119.99 259.95L123.89 263.85M119.99 263.85L123.89 259.95" stroke="#00ee00" stroke-width="0.62" fill="none"/>
<path d="M123.22 260.05L127.12 263.95M123.22 263.95L127.12 260.05" stroke="#00ee00" stroke-width="0.62" fill="none"/>
<path d="M126.45 260.17L130.35 264.07M126.45 264.07L130.35 260.17" stroke="#00ee00" stroke-width="0.62" fill="none"/>
<path d="M129.68 260.29L133.58 264.19M129.68 264.19L133.58 260.29" stroke="#00ee00" stroke-width="0.62" fill="none"/>
<path d="M132.91 260.40L136.81 264.30M132.91 264.30L136.81 260.40" stroke="#00ee00" stroke-width="0.62" fill="none"/>
<path d="M136.14 260.49L140.04 264.39M136.14 264.39L140.04 260.49" stroke="#00ee00" stroke-width="0.62" fill="none"/>
<path d="M139.37 260.60L143.27 264.50M139.37 264.50L143.27 260.60" stroke="#00ee00" stroke-width="0.62" fill="none"/>
<path d="M142.60 260.73L146.50 264.63M142.60 264.63L146.50 260.73" stroke="#00ee00" stroke-width="0.62" fill="none"/>
<path d="M145.83 260.77L149.73 264.67M145.83 264.67L149.73 260.77" stroke="#00ee00" stroke-width="0.62" fill="none"/>
<path d="M149.06 260.80L152.96 264.70M149.06 264.70L152.96 260.80" stroke="#00ee00" stroke-width="0.62" fill="none"/>
<path d="M152.29 260.84L156.19 264.74M152.29 264.74L156.19 260.84" stroke="#00ee00" stroke-width="0.62" fill="none"/>
<path d="M155.52 260.90L159.42 264.80M155.52 264.80L159.42 260.90" stroke="#00ee00" stroke-width="0.62" fill="none"/>
<path d="M158.75 260.93L162.65 264.83M158.75 264.83L162.65 260.93" stroke="#00ee00" stroke-width="0.62" fill="none"/>
<path d="M161.98 260.93L165.88 264.83M161.98 264.83L165.88 260.93" stroke="#00ee00" stroke-width="0.62" fill="none"/>
<path d="M165.21 260.93L169.11 264.83M165.21 264.83L169.11 260.93" stroke="#00ee00" stroke-width="0.62" fill="none"/>
<path d="M168.44 260.93L172.34 264.83M168.44 264.83L172.34 260.93" stroke="#00ee00" stroke-width="0.62" fill="none"/>
<path d="M171.67 260.93L175.57 264.83M171.67 264.83L175.57 260.93" stroke="#00ee00" stroke-width="0.62" fill="none"/>
<path d="M174.90 260.93L178.80 264.83M174.90 264.83L178.80 260.93" stroke="#00ee00" stroke-width="0.62" fill="none"/>
<path d="M178.13 260.93L182.03 264.83M178.13 264.83L182.03 260.93" stroke="#00ee00" stroke-width="0.62" fill="none"/>
<path d="M181.36 260.93L185.26 264.83M181.36 264.83L185.26 260.93" stroke="#00ee00" stroke-width="0.62" fill="none"/>
<path d="M184.59 260.93L188.49 264.83M184.59 264.83L188.49 260.93" stroke="#00ee00" stroke-width="0.62" fill="none"/>
<path d="M187.82 260.93L191.72 264.83M187.82 264.83L191.72 260.93" stroke="#00ee00" stroke-width="0.62" fill="none"/>
<path d="M191.05 260.93L194.95 264.83M191.05 264.83L194.95 260.93" stroke="#00ee00" stroke-width="0.62" fill="none"/>
<polyline points="31.50,227.61 34.73,228.35 37.96,228.30 41.19,227.48 44.42,227.43 47.65,228.13 50.88,228.01 54.11,227.09 57.34,226.94 60.57,227.55 63.80,227.33 67.03,226.24 70.26,225.86 73.49,226.25 76.72,225.85 79.95,224.61 83.18,224.08 86.41,224.26 89.64,223.66 92.87,222.26 96.10,221.57 99.33,221.57 102.56,220.72 105.79,219.08 109.02,218.22 112.25,218.15 115.48,217.31 118.71,215.71 121.94,214.89 125.17,214.83 128.40,214.02 131.63,212.17 134.86,210.87 138.09,210.35 141.32,208.95 144.55,206.77 147.78,204.93 151.01,201.71 154.24,199.55 157.47,198.65 160.70,198.55 163.93,198.70 167.16,198.70 170.39,198.65 173.62,198.76 176.85,199.03 180.08,199.24 183.31,199.30 186.54,199.52 189.77,199.78 193.00,199.89" fill="none" stroke="#0000ff" stroke-width="0.5" stroke-dasharray="1.1,1.1"/>
<path d="M29.60 225.71L33.40 229.51M29.60 229.51L33.40 225.71M29.60 227.61H33.40M31.50 225.71V229.51" stroke="#0000ff" stroke-width="0.55" fill="none"/>
<path d="M32.83 226.45L36.63 230.25M32.83 230.25L36.63 226.45M32.83 228.35H36.63M34.73 226.45V230.25" stroke="#0000ff" stroke-width="0.55" fill="none"/>
<path d="M36.06 226.40L39.86 230.20M36.06 230.20L39.86 226.40M36.06 228.30H39.86M37.96 226.40V230.20" stroke="#0000ff" stroke-width="0.55" fill="none"/>
<path d="M39.29 225.58L43.09 229.38M39.29 229.38L43.09 225.58M39.29 227.48H43.09M41.19 225.58V229.38" stroke="#0000ff" stroke-width="0.55" fill="none"/>
<path d="M42.52 225.53L46.32 229.33M42.52 229.33L46.32 225.53M42.52 227.43H46.32M44.42 225.53V229.33" stroke="#0000ff" stroke-width="0.55" fill="none"/>
<path d="M45.75 226.23L49.55 230.03M45.75 230.03L49.55 226.23M45.75 228.13H49.55M47.65 226.23V230.03" stroke="#0000ff" stroke-width="0.55" fill="none"/>
<path d="M48.98 226.11L52.78 229.91M48.98 229.91L52.78 226.11M48.98 228.01H52.78M50.88 226.11V229.91" stroke="#0000ff" stroke-width="0.55" fill="none"/>
<path d="M52.21 225.19L56.01 228.99M52.21 228.99L56.01 225.19M52.21 227.09H56.01M54.11 225.19V228.99" stroke="#0000ff" stroke-width="0.55" fill="none"/>
<path d="M55.44 225.04L59.24 228.84M55.44 228.84L59.24 225.04M55.44 226.94H59.24M57.34 225.04V228.84" stroke="#0000ff" stroke-width="0.55" fill="none"/>
<path d="M58.67 225.65L62.47 229.45M58.67 229.45L62.47 225.65M58.67 227.55H62.47M60.57 225.65V229.45" stroke="#0000ff" stroke-width="0.55" fill="none"/>
<path d="M61.90 225.43L65.70 229.23M61.90 229.23L65.70 225.43M61.90 227.33H65.70M63.80 225.43V229.23" stroke="#0000ff" stroke-width="0.55" fill="none"/>
<path d="M65.13 224.34L68.93 228.14M65.13 228.14L68.93 224.34M65.13 226.24H68.93M67.03 224.34V228.14" stroke="#0000ff" stroke-width="0.55" fill="none"/>
<path d="M68.36 223.96L72.16 227.76M68.36 227.76L72.16 223.96M68.36 225.86H72.16M70.26 223.96V227.76" stroke="#0000ff" stroke-width="0.55" fill="none"/>
<path d="M71.59 224.35L75.39 228.15M71.59 228.15L75.39 224.35M71.59 226.25H75.39M73.49 224.35V228.15" stroke="#0000ff" stroke-width="0.55" fill="none"/>
<path d="M74.82 223.95L78.62 227.75M74.82 227.75L78.62 223.95M74.82 225.85H78.62M76.72 223.95V227.75" stroke="#0000ff" stroke-width="0.55" fill="none"/>
<path d="M78.05 222.71L81.85 226.51M78.05 226.51L81.85 222.71M78.05 224.61H81.85M79.95 222.71V226.51" stroke="#0000ff" stroke-width="0.55" fill="none"/>
<path d="M81.28 222.18L85.08 225.98M81.28 225.98L85.08 222.18M81.28 224.08H85.08M83.18 222.18V225.98" stroke="#0000ff" stroke-width="0.55" fill="none"/>
<path d="M84.51 222.36L88.31 226.16M84.51 226.16L88.31 222.36M84.51 224.26H88.31M86.41 222.36V226.16" stroke="#0000ff" stroke-width="0.55" fill="none"/>
<path d="M87.74 221.76L91.54 225.56M87.74 225.56L91.54 221.76M87.74 223.66H91.54M89.64 221.76V225.56" stroke="#0000ff" stroke-width="0.55" fill="none"/>
<path d="M90.97 220.36L94.77 224.16M90.97 224.16L94.77 220.36M90.97 222.26H94.77M92.87 220.36V224.16" stroke="#0000ff" stroke-width="0.55" fill="none"/>
<path d="M94.20 219.67L98.00 223.47M94.20 223.47L98.00 219.67M94.20 221.57H98.00M96.10 219.67V223.47" stroke="#0000ff" stroke-width="0.55" fill="none"/>
<path d="M97.43 219.67L101.23 223.47M97.43 223.47L101.23 219.67M97.43 221.57H101.23M99.33 219.67V223.47" stroke="#0000ff" stroke-width="0.55" fill="none"/>
<path d="M100.66 218.82L104.46 222.62M100.66 222.62L104.46 218.82M100.66 220.72H104.46M102.56 218.82V222.62" stroke="#0000ff" stroke-width="0.55" fill="none"/>
<path d="M103.89 217.18L107.69 220.98M103.89 220.98L107.69 217.18M103.89 219.08H107.69M105.79 217.18V220.98" stroke="#0000ff" stroke-width="0.55" fill="none"/>
<path d="M107.12 216.32L110.92 220.12M107.12 220.12L110.92 216.32M107.12 218.22H110.92M109.02 216.32V220.12" stroke="#0000ff" stroke-width="0.55" fill="none"/>
<path d="M110.35 216.25L114.15 220.05M110.35 220.05L114.15 216.25M110.35 218.15H114.15M112.25 216.25V220.05" stroke="#0000ff" stroke-width="0.55" fill="none"/>
<path d="M113.58 215.41L117.38 219.21M113.58 219.21L117.38 215.41M113.58 217.31H117.38M115.48 215.41V219.21" stroke="#0000ff" stroke-width="0.55" fill="none"/>
<path d="M116.81 213.81L120.61 217.61M116.81 217.61L120.61 213.81M116.81 215.71H120.61M118.71 213.81V217.61" stroke="#0000ff" stroke-width="0.55" fill="none"/>
<path d="M120.04 212.99L123.84 216.79M120.04 216.79L123.84 212.99M120.04 214.89H123.84M121.94 212.99V216.79" stroke="#0000ff" stroke-width="0.55" fill="none"/>
<path d="M123.27 212.93L127.07 216.73M123.27 216.73L127.07 212.93M123.27 214.83H127.07M125.17 212.93V216.73" stroke="#0000ff" stroke-width="0.55" fill="none"/>
<path d="M126.50 212.12L130.30 215.92M126.50 215.92L130.30 212.12M126.50 214.02H130.30M128.40 212.12V215.92" stroke="#0000ff" stroke-width="0.55" fill="none"/>
<path d="M129.73 210.27L133.53 214.07M129.73 214.07L133.53 210.27M129.73 212.17H133.53M131.63 210.27V214.07" stroke="#0000ff" stroke-width="0.55" fill="none"/>
<path d="M132.96 208.97L136.76 212.77M132.96 212.77L136.76 208.97M132.96 210.87H136.76M134.86 208.97V212.77" stroke="#0000ff" stroke-width="0.55" fill="none"/>
<path d="M136.19 208.45L139.99 212.25M136.19 212.25L139.99 208.45M136.19 210.35H139.99M138.09 208.45V212.25" stroke="#0000ff" stroke-width="0.55" fill="none"/>
<path d="M139.42 207.05L143.22 210.85M139.42 210.85L143.22 207.05M139.42 208.95H143.22M141.32 207.05V210.85" stroke="#0000ff" stroke-width="0.55" fill="none"/>
<path d="M142.65 204.87L146.45 208.67M142.65 208.67L146.45 204.87M142.65 206.77H146.45M144.55 204.87V208.67" stroke="#0000ff" stroke-width="0.55" fill="none"/>
<path d="M145.88 203.03L149.68 206.83M145.88 206.83L149.68 203.03M145.88 204.93H149.68M147.78 203.03V206.83" stroke="#0000ff" stroke-width="0.55" fill="none"/>
<path d="M149.11 199.81L152.91 203.61M149.11 203.61L152.91 199.81M149.11 201.71H152.91M151.01 199.81V203.61" stroke="#0000ff" stroke-width="0.55" fill="none"/>
<path d="M152.34 197.65L156.14 201.45M152.34 201.45L156.14 197.65M152.34 199.55H156.14M154.24 197.65V201.45" stroke="#0000ff" stroke-width="0.55" fill="none"/>
<path d="M155.57 196.75L159.37 200.55M155.57 200.55L159.37 196.75M155.57 198.65H159.37M157.47 196.75V200.55" stroke="#0000ff" stroke-width="0.55" fill="none"/>
<path d="M158.80 196.65L162.60 200.45M158.80 200.45L162.60 196.65M158.80 198.55H162.60M160.70 196.65V200.45" stroke="#0000ff" stroke-width="0.55" fill="none"/>
<path d="M162.03 196.80L165.83 200.60M162.03 200.60L165.83 196.80M162.03 198.70H165.83M163.93 196.80V200.60" stroke="#0000ff" stroke-width="0.55" fill="none"/>
<path d="M165.26 196.80L169.06 200.60M165.26 200.60L169.06 196.80M165.26 198.70H169.06M167.16 196.80V200.60" stroke="#0000ff" stroke-width="0.55" fill="none"/>
<path d="M168.49 196.75L172.29 200.55M168.49 200.55L172.29 196.75M168.49 198.65H172.29M170.39 196.75V200.55" stroke="#0000ff" stroke-width="0.55" fill="none"/>
<path d="M171.72 196.86L175.52 200.66M171.72 200.66L175.52 196.86M171.72 198.76H175.52M173.62 196.86V200.66" stroke="#0000ff" stroke-width="0.55" fill="none"/>
<path d="M174.95 197.13L178.75 200.93M174.95 200.93L178.75 197.13M174.95 199.03H178.75M176.85 197.13V200.93" stroke="#0000ff" stroke-width="0.55" fill="none"/>
<path d="M178.18 197.34L181.98 201.14M178.18 201.14L181.98 197.34M178.18 199.24H181.98M180.08 197.34V201.14" stroke="#0000ff" stroke-width="0.55" fill="none"/>
<path d="M181.41 197.40L185.21 201.20M181.41 201.20L185.21 197.40M181.41 199.30H185.21M183.31 197.40V201.20" stroke="#0000ff" stroke-width="0.55" fill="none"/>
<path d="M184.64 197.62L188.44 201.42M184.64 201.42L188.44 197.62M184.64 199.52H188.44M186.54 197.62V201.42" stroke="#0000ff" stroke-width="0.55" fill="none"/>
<path d="M187.87 197.88L191.67 201.68M187.87 201.68L191.67 197.88M187.87 199.78H191.67M189.77 197.88V201.68" stroke="#0000ff" stroke-width="0.55" fill="none"/>
<path d="M191.10 197.99L194.90 201.79M191.10 201.79L194.90 197.99M191.10 199.89H194.90M193.00 197.99V201.79" stroke="#0000ff" stroke-width="0.55" fill="none"/>
<polyline points="31.50,197.87 34.73,197.00 37.96,197.00 41.19,197.87 44.42,197.87 47.65,197.03 50.88,197.14 54.11,198.24 57.34,198.57 60.57,198.07 63.80,198.48 67.03,199.82 70.26,200.35 73.49,200.04 76.72,200.67 79.95,202.26 83.18,203.05 86.41,203.00 89.64,203.81 92.87,205.51 96.10,206.43 99.33,206.64 102.56,207.80 105.79,209.86 109.02,211.06 112.25,211.48 115.48,212.87 118.71,215.20 121.94,216.73 125.17,217.55 128.40,219.47 131.63,222.28 134.86,224.65 138.09,226.16 141.32,228.65 144.55,232.75 147.78,238.58 151.01,245.93 154.24,251.00 157.47,254.01 160.70,255.73 163.93,256.53 167.16,257.29 170.39,258.11 173.62,258.54 176.85,258.80 180.08,259.13 183.31,259.62 186.54,259.84 189.77,259.88 193.00,259.99" fill="none" stroke="#ff00ff" stroke-width="0.5" stroke-dasharray="1.6,0.8,0.5,0.8"/>
<rect x="29.75" y="196.12" width="3.50" height="3.50" stroke="#ff00ff" stroke-width="0.5" fill="none"/>
<rect x="32.98" y="195.25" width="3.50" height="3.50" stroke="#ff00ff" stroke-width="0.5" fill="none"/>
<rect x="36.21" y="195.25" width="3.50" height="3.50" stroke="#ff00ff" stroke-width="0.5" fill="none"/>
<rect x="39.44" y="196.12" width="3.50" height="3.50" stroke="#ff00ff" stroke-width="0.5" fill="none"/>
<rect x="42.67" y="196.12" width="3.50" height="3.50" stroke="#ff00ff" stroke-width="0.5" fill="none"/>
<rect x="45.90" y="195.28" width="3.50" height="3.50" stroke="#ff00ff" stroke-width="0.5" fill="none"/>
<rect x="49.13" y="195.39" width="3.50" height="3.50" stroke="#ff00ff" stroke-width="0.5" fill="none"/>
<rect x="52.36" y="196.49" width="3.50" height="3.50" stroke="#ff00ff" stroke-width="0.5" fill="none"/>
<rect x="55.59" y="196.82" width="3.50" height="3.50" stroke="#ff00ff" stroke-width="0.5" fill="none"/>
<rect x="58.82" y="196.32" width="3.50" height="3.50" stroke="#ff00ff" stroke-width="0.5" fill="none"/>
<rect x="62.05" y="196.73" width="3.50" height="3.50" stroke="#ff00ff" stroke-width="0.5" fill="none"/>
<rect x="65.28" y="198.07" width="3.50" height="3.50" stroke="#ff00ff" stroke-width="0.5" fill="none"/>
<rect x="68.51" y="198.60" width="3.50" height="3.50" stroke="#ff00ff" stroke-width="0.5" fill="none"/>
<rect x="71.74" y="198.29" width="3.50" height="3.50" stroke="#ff00ff" stroke-width="0.5" fill="none"/>
<rect x="74.97" y="198.92" width="3.50" height="3.50" stroke="#ff00ff" stroke-width="0.5" fill="none"/>
<rect x="78.20" y="200.51" width="3.50" height="3.50" stroke="#ff00ff" stroke-width="0.5" fill="none"/>
<rect x="81.43" y="201.30" width="3.50" height="3.50" stroke="#ff00ff" stroke-width="0.5" fill="none"/>
<rect x="84.66" y="201.25" width="3.50" height="3.50" stroke="#ff00ff" stroke-width="0.5" fill="none"/>
<rect x="87.89" y="202.06" width="3.50" height="3.50" stroke="#ff00ff" stroke-width="0.5" fill="none"/>
<rect x="91.12" y="203.76" width="3.50" height="3.50" stroke="#ff00ff" stroke-width="0.5" fill="none"/>
<rect x="94.35" y="204.68" width="3.50" height="3.50" stroke="#ff00ff" stroke-width="0.5" fill="none"/>
<rect x="97.58" y="204.89" width="3.50" height="3.50" stroke="#ff00ff" stroke-width="0.5" fill="none"/>
<rect x="100.81" y="206.05" width="3.50" height="3.50" stroke="#ff00ff" stroke-width="0.5" fill="none"/>
<rect x="104.04" y="208.11" width="3.50" height="3.50" stroke="#ff00ff" stroke-width="0.5" fill="none"/>
<rect x="107.27" y="209.31" width="3.50" height="3.50" stroke="#ff00ff" stroke-width="0.5" fill="none"/>
<rect x="110.50" y="209.73" width="3.50" height="3.50" stroke="#ff00ff" stroke-width="0.5" fill="none"/>
<rect x="113.73" y="211.12" width="3.50" height="3.50" stroke="#ff00ff" stroke-width="0.5" fill="none"/>
<rect x="116.96" y="213.45" width="3.50" height="3.50" stroke="#ff00ff" stroke-width="0.5" fill="none"/>
<rect x="120.19" y="214.98" width="3.50" height="3.50" stroke="#ff00ff" stroke-width="0.5" fill="none"/>
<rect x="123.42" y="215.80" width="3.50" height="3.50" stroke="#ff00ff" stroke-width="0.5" fill="none"/>
<rect x="126.65" y="217.72" width="3.50" height="3.50" stroke="#ff00ff" stroke-width="0.5" fill="none"/>
<rect x="129.88" y="220.53" width="3.50" height="3.50" stroke="#ff00ff" stroke-width="0.5" fill="none"/>
<rect x="133.11" y="222.90" width="3.50" height="3.50" stroke="#ff00ff" stroke-width="0.5" fill="none"/>
<rect x="136.34" y="224.41" width="3.50" height="3.50" stroke="#ff00ff" stroke-width="0.5" fill="none"/>
<rect x="139.57" y="226.90" width="3.50" height="3.50" stroke="#ff00ff" stroke-width="0.5" fill="none"/>
<rect x="142.80" y="231.00" width="3.50" height="3.50" stroke="#ff00ff" stroke-width="0.5" fill="none"/>
<rect x="146.03" y="236.83" width="3.50" height="3.50" stroke="#ff00ff" stroke-width="0.5" fill="none"/>
<rect x="149.26" y="244.18" width="3.50" height="3.50" stroke="#ff00ff" stroke-width="0.5" fill="none"/>
<rect x="152.49" y="249.25" width="3.50" height="3.50" stroke="#ff00ff" stroke-width="0.5" fill="none"/>
<rect x="155.72" y="252.26" width="3.50" height="3.50" stroke="#ff00ff" stroke-width="0.5" fill="none"/>
<rect x="158.95" y="253.98" width="3.50" height="3.50" stroke="#ff00ff" stroke-width="0.5" fill="none"/>
<rect x="162.18" y="254.78" width="3.50" height="3.50" stroke="#ff00ff" stroke-width="0.5" fill="none"/>
<rect x="165.41" y="255.54" width="3.50" height="3.50" stroke="#ff00ff" stroke-width="0.5" fill="none"/>
<rect x="168.64" y="256.36" width="3.50" height="3.50" stroke="#ff00ff" stroke-width="0.5" fill="none"/>
<rect x="171.87" y="256.79" width="3.50" height="3.50" stroke="#ff00ff" stroke-width="0.5" fill="none"/>
<rect x="175.10" y="257.05" width="3.50" height="3.50" stroke="#ff00ff" stroke-width="0.5" fill="none"/>
<rect x="178.33" y="257.38" width="3.50" height="3.50" stroke="#ff00ff" stroke-width="0.5" fill="none"/>
<rect x="181.56" y="257.87" width="3.50" height="3.50" stroke="#ff00ff" stroke-width="0.5" fill="none"/>
<rect x="184.79" y="258.09" width="3.50" height="3.50" stroke="#ff00ff" stroke-width="0.5" fill="none"/>
<rect x="188.02" y="258.13" width="3.50" height="3.50" stroke="#ff00ff" stroke-width="0.5" fill="none"/>
<rect x="191.25" y="258.24" width="3.50" height="3.50" stroke="#ff00ff" stroke-width="0.5" fill="none"/>
<text x="144.50" y="179.90" font-size="14.4">D</text><text transform="translate(154.10,184.30) scale(1.05,1)" font-size="12">x</text><text transform="translate(160.00,179.90) scale(1.12,1)" font-size="14.4">=</text><text x="169.10" y="179.90" font-size="14.4">1.4</text>
<rect x="239.0" y="155.1" width="161.5" height="108.00000000000003" fill="none" stroke="#505050" stroke-width="0.7"/>
<path d="M239.00 263.1v-3.4M239.00 155.1v3.4M239.0 264.19h3.4M400.5 264.19h-3.4M271.30 263.1v-3.4M271.30 155.1v3.4M239.0 242.37h3.4M400.5 242.37h-3.4M303.60 263.1v-3.4M303.60 155.1v3.4M239.0 220.55h3.4M400.5 220.55h-3.4M335.90 263.1v-3.4M335.90 155.1v3.4M239.0 198.74h3.4M400.5 198.74h-3.4M368.20 263.1v-3.4M368.20 155.1v3.4M239.0 176.92h3.4M400.5 176.92h-3.4M400.50 263.1v-3.4M400.50 155.1v3.4M239.0 155.10h3.4M400.5 155.10h-3.4" stroke="#555" stroke-width="0.5" fill="none"/>
<text x="240.20" y="276.00" font-size="11.8" text-anchor="middle">0</text>
<text x="272.50" y="276.00" font-size="11.8" text-anchor="middle">1</text>
<text x="304.80" y="276.00" font-size="11.8" text-anchor="middle">2</text>
<text x="337.10" y="276.00" font-size="11.8" text-anchor="middle">3</text>
<text x="369.40" y="276.00" font-size="11.8" text-anchor="middle">4</text>
<text x="401.70" y="276.00" font-size="11.8" text-anchor="middle">5</text>
<text x="234.00" y="246.57" font-size="11.8" text-anchor="end">0.2</text>
<text x="234.00" y="224.75" font-size="11.8" text-anchor="end">0.4</text>
<text x="234.00" y="202.94" font-size="11.8" text-anchor="end">0.6</text>
<text x="234.00" y="181.12" font-size="11.8" text-anchor="end">0.8</text>
<text x="234.00" y="159.30" font-size="11.8" text-anchor="end">1</text>
<polyline points="239.00,254.81 242.23,254.81 245.46,254.81 248.69,254.70 251.92,254.70 255.15,254.48 258.38,254.48 261.61,254.26 264.84,254.26 268.07,253.97 271.30,253.97 274.53,253.39 277.76,253.39 280.99,252.63 284.22,252.63 287.45,251.92 290.68,251.50 293.91,251.50 297.14,250.77 300.37,250.36 303.60,250.36 306.83,250.36 310.06,249.03 313.29,248.15 316.52,248.15 319.75,247.61 322.98,246.45 326.21,246.19 329.44,245.72 332.67,244.99 335.90,244.28 339.13,243.85 342.36,242.37 345.59,242.05 348.82,240.41 352.05,239.70 355.28,237.50 358.51,236.07 361.74,235.61 364.97,232.45 368.20,228.41 371.43,227.43 374.66,226.38 377.89,225.51 381.12,224.81 384.35,224.21 387.58,223.61 390.81,223.06 394.04,222.52 397.27,222.08 400.50,221.65" fill="none" stroke="#ff0000" stroke-width="0.5"/>
<path d="M236.90 254.81H241.10M239.00 252.71V256.91" stroke="#ff0000" stroke-width="0.5" fill="none"/>
<path d="M240.13 254.81H244.33M242.23 252.71V256.91" stroke="#ff0000" stroke-width="0.5" fill="none"/>
<path d="M243.36 254.81H247.56M245.46 252.71V256.91" stroke="#ff0000" stroke-width="0.5" fill="none"/>
<path d="M246.59 254.70H250.79M248.69 252.60V256.80" stroke="#ff0000" stroke-width="0.5" fill="none"/>
<path d="M249.82 254.70H254.02M251.92 252.60V256.80" stroke="#ff0000" stroke-width="0.5" fill="none"/>
<path d="M253.05 254.48H257.25M255.15 252.38V256.58" stroke="#ff0000" stroke-width="0.5" fill="none"/>
<path d="M256.28 254.48H260.48M258.38 252.38V256.58" stroke="#ff0000" stroke-width="0.5" fill="none"/>
<path d="M259.51 254.26H263.71M261.61 252.16V256.36" stroke="#ff0000" stroke-width="0.5" fill="none"/>
<path d="M262.74 254.26H266.94M264.84 252.16V256.36" stroke="#ff0000" stroke-width="0.5" fill="none"/>
<path d="M265.97 253.97H270.17M268.07 251.87V256.07" stroke="#ff0000" stroke-width="0.5" fill="none"/>
<path d="M269.20 253.97H273.40M271.30 251.87V256.07" stroke="#ff0000" stroke-width="0.5" fill="none"/>
<path d="M272.43 253.39H276.63M274.53 251.29V255.49" stroke="#ff0000" stroke-width="0.5" fill="none"/>
<path d="M275.66 253.39H279.86M277.76 251.29V255.49" stroke="#ff0000" stroke-width="0.5" fill="none"/>
<path d="M278.89 252.63H283.09M280.99 250.53V254.73" stroke="#ff0000" stroke-width="0.5" fill="none"/>
<path d="M282.12 252.63H286.32M284.22 250.53V254.73" stroke="#ff0000" stroke-width="0.5" fill="none"/>
<path d="M285.35 251.92H289.55M287.45 249.82V254.02" stroke="#ff0000" stroke-width="0.5" fill="none"/>
<path d="M288.58 251.50H292.78M290.68 249.40V253.60" stroke="#ff0000" stroke-width="0.5" fill="none"/>
<path d="M291.81 251.50H296.01M293.91 249.40V253.60" stroke="#ff0000" stroke-width="0.5" fill="none"/>
<path d="M295.04 250.77H299.24M297.14 248.67V252.87" stroke="#ff0000" stroke-width="0.5" fill="none"/>
<path d="M298.27 250.36H302.47M300.37 248.26V252.46" stroke="#ff0000" stroke-width="0.5" fill="none"/>
<path d="M301.50 250.36H305.70M303.60 248.26V252.46" stroke="#ff0000" stroke-width="0.5" fill="none"/>
<path d="M304.73 250.36H308.93M306.83 248.26V252.46" stroke="#ff0000" stroke-width="0.5" fill="none"/>
<path d="M307.96 249.03H312.16M310.06 246.93V251.13" stroke="#ff0000" stroke-width="0.5" fill="none"/>
<path d="M311.19 248.15H315.39M313.29 246.05V250.25" stroke="#ff0000" stroke-width="0.5" fill="none"/>
<path d="M314.42 248.15H318.62M316.52 246.05V250.25" stroke="#ff0000" stroke-width="0.5" fill="none"/>
<path d="M317.65 247.61H321.85M319.75 245.51V249.71" stroke="#ff0000" stroke-width="0.5" fill="none"/>
<path d="M320.88 246.45H325.08M322.98 244.35V248.55" stroke="#ff0000" stroke-width="0.5" fill="none"/>
<path d="M324.11 246.19H328.31M326.21 244.09V248.29" stroke="#ff0000" stroke-width="0.5" fill="none"/>
<path d="M327.34 245.72H331.54M329.44 243.62V247.82" stroke="#ff0000" stroke-width="0.5" fill="none"/>
<path d="M330.57 244.99H334.77M332.67 242.89V247.09" stroke="#ff0000" stroke-width="0.5" fill="none"/>
<path d="M333.80 244.28H338.00M335.90 242.18V246.38" stroke="#ff0000" stroke-width="0.5" fill="none"/>
<path d="M337.03 243.85H341.23M339.13 241.75V245.95" stroke="#ff0000" stroke-width="0.5" fill="none"/>
<path d="M340.26 242.37H344.46M342.36 240.27V244.47" stroke="#ff0000" stroke-width="0.5" fill="none"/>
<path d="M343.49 242.05H347.69M345.59 239.95V244.15" stroke="#ff0000" stroke-width="0.5" fill="none"/>
<path d="M346.72 240.41H350.92M348.82 238.31V242.51" stroke="#ff0000" stroke-width="0.5" fill="none"/>
<path d="M349.95 239.70H354.15M352.05 237.60V241.80" stroke="#ff0000" stroke-width="0.5" fill="none"/>
<path d="M353.18 237.50H357.38M355.28 235.40V239.60" stroke="#ff0000" stroke-width="0.5" fill="none"/>
<path d="M356.41 236.07H360.61M358.51 233.97V238.17" stroke="#ff0000" stroke-width="0.5" fill="none"/>
<path d="M359.64 235.61H363.84M361.74 233.51V237.71" stroke="#ff0000" stroke-width="0.5" fill="none"/>
<path d="M362.87 232.45H367.07M364.97 230.35V234.55" stroke="#ff0000" stroke-width="0.5" fill="none"/>
<path d="M366.10 228.41H370.30M368.20 226.31V230.51" stroke="#ff0000" stroke-width="0.5" fill="none"/>
<path d="M369.33 227.43H373.53M371.43 225.33V229.53" stroke="#ff0000" stroke-width="0.5" fill="none"/>
<path d="M372.56 226.38H376.76M374.66 224.28V228.48" stroke="#ff0000" stroke-width="0.5" fill="none"/>
<path d="M375.79 225.51H379.99M377.89 223.41V227.61" stroke="#ff0000" stroke-width="0.5" fill="none"/>
<path d="M379.02 224.81H383.22M381.12 222.71V226.91" stroke="#ff0000" stroke-width="0.5" fill="none"/>
<path d="M382.25 224.21H386.45M384.35 222.11V226.31" stroke="#ff0000" stroke-width="0.5" fill="none"/>
<path d="M385.48 223.61H389.68M387.58 221.51V225.71" stroke="#ff0000" stroke-width="0.5" fill="none"/>
<path d="M388.71 223.06H392.91M390.81 220.96V225.16" stroke="#ff0000" stroke-width="0.5" fill="none"/>
<path d="M391.94 222.52H396.14M394.04 220.42V224.62" stroke="#ff0000" stroke-width="0.5" fill="none"/>
<path d="M395.17 222.08H399.37M397.27 219.98V224.18" stroke="#ff0000" stroke-width="0.5" fill="none"/>
<path d="M398.40 221.65H402.60M400.50 219.55V223.75" stroke="#ff0000" stroke-width="0.5" fill="none"/>
<polyline points="239.00,254.81 242.23,254.87 245.46,254.92 248.69,254.98 251.92,255.04 255.15,255.10 258.38,255.16 261.61,255.21 264.84,255.27 268.07,255.33 271.30,255.39 274.53,255.44 277.76,255.50 280.99,255.56 284.22,255.62 287.45,255.68 290.68,255.73 293.91,255.79 297.14,256.15 300.37,256.50 303.60,256.86 306.83,257.09 310.06,257.32 313.29,257.55 316.52,257.79 319.75,258.02 322.98,258.19 326.21,258.36 329.44,258.53 332.67,258.71 335.90,258.88 339.13,259.06 342.36,259.24 345.59,259.43 348.82,259.61 352.05,260.28 355.28,260.95 358.51,261.29 361.74,261.63 364.97,261.97 368.20,262.83 371.43,263.05 374.66,263.05 377.89,263.05 381.12,263.06 384.35,263.06 387.58,263.06 390.81,263.07 394.04,263.07 397.27,263.07 400.50,263.08" fill="none" stroke="#00ee00" stroke-width="0.75" stroke-dasharray="2.0,1.0"/>
<path d="M237.05 252.86L240.95 256.76M237.05 256.76L240.95 252.86" stroke="#00ee00" stroke-width="0.62" fill="none"/>
<path d="M240.28 252.92L244.18 256.82M240.28 256.82L244.18 252.92" stroke="#00ee00" stroke-width="0.62" fill="none"/>
<path d="M243.51 252.97L247.41 256.87M243.51 256.87L247.41 252.97" stroke="#00ee00" stroke-width="0.62" fill="none"/>
<path d="M246.74 253.03L250.64 256.93M246.74 256.93L250.64 253.03" stroke="#00ee00" stroke-width="0.62" fill="none"/>
<path d="M249.97 253.09L253.87 256.99M249.97 256.99L253.87 253.09" stroke="#00ee00" stroke-width="0.62" fill="none"/>
<path d="M253.20 253.15L257.10 257.05M253.20 257.05L257.10 253.15" stroke="#00ee00" stroke-width="0.62" fill="none"/>
<path d="M256.43 253.21L260.33 257.11M256.43 257.11L260.33 253.21" stroke="#00ee00" stroke-width="0.62" fill="none"/>
<path d="M259.66 253.26L263.56 257.16M259.66 257.16L263.56 253.26" stroke="#00ee00" stroke-width="0.62" fill="none"/>
<path d="M262.89 253.32L266.79 257.22M262.89 257.22L266.79 253.32" stroke="#00ee00" stroke-width="0.62" fill="none"/>
<path d="M266.12 253.38L270.02 257.28M266.12 257.28L270.02 253.38" stroke="#00ee00" stroke-width="0.62" fill="none"/>
<path d="M269.35 253.44L273.25 257.34M269.35 257.34L273.25 253.44" stroke="#00ee00" stroke-width="0.62" fill="none"/>
<path d="M272.58 253.49L276.48 257.39M272.58 257.39L276.48 253.49" stroke="#00ee00" stroke-width="0.62" fill="none"/>
<path d="M275.81 253.55L279.71 257.45M275.81 257.45L279.71 253.55" stroke="#00ee00" stroke-width="0.62" fill="none"/>
<path d="M279.04 253.61L282.94 257.51M279.04 257.51L282.94 253.61" stroke="#00ee00" stroke-width="0.62" fill="none"/>
<path d="M282.27 253.67L286.17 257.57M282.27 257.57L286.17 253.67" stroke="#00ee00" stroke-width="0.62" fill="none"/>
<path d="M285.50 253.73L289.40 257.63M285.50 257.63L289.40 253.73" stroke="#00ee00" stroke-width="0.62" fill="none"/>
<path d="M288.73 253.78L292.63 257.68M288.73 257.68L292.63 253.78" stroke="#00ee00" stroke-width="0.62" fill="none"/>
<path d="M291.96 253.84L295.86 257.74M291.96 257.74L295.86 253.84" stroke="#00ee00" stroke-width="0.62" fill="none"/>
<path d="M295.19 254.20L299.09 258.10M295.19 258.10L299.09 254.20" stroke="#00ee00" stroke-width="0.62" fill="none"/>
<path d="M298.42 254.55L302.32 258.45M298.42 258.45L302.32 254.55" stroke="#00ee00" stroke-width="0.62" fill="none"/>
<path d="M301.65 254.91L305.55 258.81M301.65 258.81L305.55 254.91" stroke="#00ee00" stroke-width="0.62" fill="none"/>
<path d="M304.88 255.14L308.78 259.04M304.88 259.04L308.78 255.14" stroke="#00ee00" stroke-width="0.62" fill="none"/>
<path d="M308.11 255.37L312.01 259.27M308.11 259.27L312.01 255.37" stroke="#00ee00" stroke-width="0.62" fill="none"/>
<path d="M311.34 255.60L315.24 259.50M311.34 259.50L315.24 255.60" stroke="#00ee00" stroke-width="0.62" fill="none"/>
<path d="M314.57 255.84L318.47 259.74M314.57 259.74L318.47 255.84" stroke="#00ee00" stroke-width="0.62" fill="none"/>
<path d="M317.80 256.07L321.70 259.97M317.80 259.97L321.70 256.07" stroke="#00ee00" stroke-width="0.62" fill="none"/>
<path d="M321.03 256.24L324.93 260.14M321.03 260.14L324.93 256.24" stroke="#00ee00" stroke-width="0.62" fill="none"/>
<path d="M324.26 256.41L328.16 260.31M324.26 260.31L328.16 256.41" stroke="#00ee00" stroke-width="0.62" fill="none"/>
<path d="M327.49 256.58L331.39 260.48M327.49 260.48L331.39 256.58" stroke="#00ee00" stroke-width="0.62" fill="none"/>
<path d="M330.72 256.76L334.62 260.66M330.72 260.66L334.62 256.76" stroke="#00ee00" stroke-width="0.62" fill="none"/>
<path d="M333.95 256.93L337.85 260.83M333.95 260.83L337.85 256.93" stroke="#00ee00" stroke-width="0.62" fill="none"/>
<path d="M337.18 257.11L341.08 261.01M337.18 261.01L341.08 257.11" stroke="#00ee00" stroke-width="0.62" fill="none"/>
<path d="M340.41 257.29L344.31 261.19M340.41 261.19L344.31 257.29" stroke="#00ee00" stroke-width="0.62" fill="none"/>
<path d="M343.64 257.48L347.54 261.38M343.64 261.38L347.54 257.48" stroke="#00ee00" stroke-width="0.62" fill="none"/>
<path d="M346.87 257.66L350.77 261.56M346.87 261.56L350.77 257.66" stroke="#00ee00" stroke-width="0.62" fill="none"/>
<path d="M350.10 258.33L354.00 262.23M350.10 262.23L354.00 258.33" stroke="#00ee00" stroke-width="0.62" fill="none"/>
<path d="M353.33 259.00L357.23 262.90M353.33 262.90L357.23 259.00" stroke="#00ee00" stroke-width="0.62" fill="none"/>
<path d="M356.56 259.34L360.46 263.24M356.56 263.24L360.46 259.34" stroke="#00ee00" stroke-width="0.62" fill="none"/>
<path d="M359.79 259.68L363.69 263.58M359.79 263.58L363.69 259.68" stroke="#00ee00" stroke-width="0.62" fill="none"/>
<path d="M363.02 260.02L366.92 263.92M363.02 263.92L366.92 260.02" stroke="#00ee00" stroke-width="0.62" fill="none"/>
<path d="M366.25 260.88L370.15 264.78M366.25 264.78L370.15 260.88" stroke="#00ee00" stroke-width="0.62" fill="none"/>
<path d="M369.48 261.10L373.38 265.00M369.48 265.00L373.38 261.10" stroke="#00ee00" stroke-width="0.62" fill="none"/>
<path d="M372.71 261.10L376.61 265.00M372.71 265.00L376.61 261.10" stroke="#00ee00" stroke-width="0.62" fill="none"/>
<path d="M375.94 261.10L379.84 265.00M375.94 265.00L379.84 261.10" stroke="#00ee00" stroke-width="0.62" fill="none"/>
<path d="M379.17 261.11L383.07 265.01M379.17 265.01L383.07 261.11" stroke="#00ee00" stroke-width="0.62" fill="none"/>
<path d="M382.40 261.11L386.30 265.01M382.40 265.01L386.30 261.11" stroke="#00ee00" stroke-width="0.62" fill="none"/>
<path d="M385.63 261.11L389.53 265.01M385.63 265.01L389.53 261.11" stroke="#00ee00" stroke-width="0.62" fill="none"/>
<path d="M388.86 261.12L392.76 265.02M388.86 265.02L392.76 261.12" stroke="#00ee00" stroke-width="0.62" fill="none"/>
<path d="M392.09 261.12L395.99 265.02M392.09 265.02L395.99 261.12" stroke="#00ee00" stroke-width="0.62" fill="none"/>
<path d="M395.32 261.12L399.22 265.02M395.32 265.02L399.22 261.12" stroke="#00ee00" stroke-width="0.62" fill="none"/>
<path d="M398.55 261.13L402.45 265.03M398.55 265.03L402.45 261.13" stroke="#00ee00" stroke-width="0.62" fill="none"/>
<polyline points="239.00,238.12 242.23,238.12 245.46,240.74 248.69,240.74 251.92,237.79 255.15,237.79 258.38,240.30 261.61,240.30 264.84,237.40 268.07,237.40 271.30,239.32 274.53,239.32 277.76,236.37 280.99,236.37 284.22,237.74 287.45,237.74 290.68,234.52 293.91,234.52 297.14,236.48 300.37,232.83 303.60,232.83 306.83,234.30 310.06,234.30 313.29,230.43 316.52,230.43 319.75,231.46 322.98,227.65 326.21,227.65 329.44,229.23 332.67,225.50 335.90,225.50 339.13,226.23 342.36,221.99 345.59,221.99 348.82,219.35 352.05,219.35 355.28,215.80 358.51,212.61 361.74,212.61 364.97,208.99 368.20,199.06 371.43,198.95 374.66,198.95 377.89,198.95 381.12,199.06 384.35,199.06 387.58,199.17 390.81,199.28 394.04,199.39 397.27,199.50 400.50,199.61" fill="none" stroke="#0000ff" stroke-width="0.5" stroke-dasharray="1.1,1.1"/>
<path d="M237.10 236.22L240.90 240.02M237.10 240.02L240.90 236.22M237.10 238.12H240.90M239.00 236.22V240.02" stroke="#0000ff" stroke-width="0.55" fill="none"/>
<path d="M240.33 236.22L244.13 240.02M240.33 240.02L244.13 236.22M240.33 238.12H244.13M242.23 236.22V240.02" stroke="#0000ff" stroke-width="0.55" fill="none"/>
<path d="M243.56 238.84L247.36 242.64M243.56 242.64L247.36 238.84M243.56 240.74H247.36M245.46 238.84V242.64" stroke="#0000ff" stroke-width="0.55" fill="none"/>
<path d="M246.79 238.84L250.59 242.64M246.79 242.64L250.59 238.84M246.79 240.74H250.59M248.69 238.84V242.64" stroke="#0000ff" stroke-width="0.55" fill="none"/>
<path d="M250.02 235.89L253.82 239.69M250.02 239.69L253.82 235.89M250.02 237.79H253.82M251.92 235.89V239.69" stroke="#0000ff" stroke-width="0.55" fill="none"/>
<path d="M253.25 235.89L257.05 239.69M253.25 239.69L257.05 235.89M253.25 237.79H257.05M255.15 235.89V239.69" stroke="#0000ff" stroke-width="0.55" fill="none"/>
<path d="M256.48 238.40L260.28 242.20M256.48 242.20L260.28 238.40M256.48 240.30H260.28M258.38 238.40V242.20" stroke="#0000ff" stroke-width="0.55" fill="none"/>
<path d="M259.71 238.40L263.51 242.20M259.71 242.20L263.51 238.40M259.71 240.30H263.51M261.61 238.40V242.20" stroke="#0000ff" stroke-width="0.55" fill="none"/>
<path d="M262.94 235.50L266.74 239.30M262.94 239.30L266.74 235.50M262.94 237.40H266.74M264.84 235.50V239.30" stroke="#0000ff" stroke-width="0.55" fill="none"/>
<path d="M266.17 235.50L269.97 239.30M266.17 239.30L269.97 235.50M266.17 237.40H269.97M268.07 235.50V239.30" stroke="#0000ff" stroke-width="0.55" fill="none"/>
<path d="M269.40 237.42L273.20 241.22M269.40 241.22L273.20 237.42M269.40 239.32H273.20M271.30 237.42V241.22" stroke="#0000ff" stroke-width="0.55" fill="none"/>
<path d="M272.63 237.42L276.43 241.22M272.63 241.22L276.43 237.42M272.63 239.32H276.43M274.53 237.42V241.22" stroke="#0000ff" stroke-width="0.55" fill="none"/>
<path d="M275.86 234.47L279.66 238.27M275.86 238.27L279.66 234.47M275.86 236.37H279.66M277.76 234.47V238.27" stroke="#0000ff" stroke-width="0.55" fill="none"/>
<path d="M279.09 234.47L282.89 238.27M279.09 238.27L282.89 234.47M279.09 236.37H282.89M280.99 234.47V238.27" stroke="#0000ff" stroke-width="0.55" fill="none"/>
<path d="M282.32 235.84L286.12 239.64M282.32 239.64L286.12 235.84M282.32 237.74H286.12M284.22 235.84V239.64" stroke="#0000ff" stroke-width="0.55" fill="none"/>
<path d="M285.55 235.84L289.35 239.64M285.55 239.64L289.35 235.84M285.55 237.74H289.35M287.45 235.84V239.64" stroke="#0000ff" stroke-width="0.55" fill="none"/>
<path d="M288.78 232.62L292.58 236.42M288.78 236.42L292.58 232.62M288.78 234.52H292.58M290.68 232.62V236.42" stroke="#0000ff" stroke-width="0.55" fill="none"/>
<path d="M292.01 232.62L295.81 236.42M292.01 236.42L295.81 232.62M292.01 234.52H295.81M293.91 232.62V236.42" stroke="#0000ff" stroke-width="0.55" fill="none"/>
<path d="M295.24 234.58L299.04 238.38M295.24 238.38L299.04 234.58M295.24 236.48H299.04M297.14 234.58V238.38" stroke="#0000ff" stroke-width="0.55" fill="none"/>
<path d="M298.47 230.93L302.27 234.73M298.47 234.73L302.27 230.93M298.47 232.83H302.27M300.37 230.93V234.73" stroke="#0000ff" stroke-width="0.55" fill="none"/>
<path d="M301.70 230.93L305.50 234.73M301.70 234.73L305.50 230.93M301.70 232.83H305.50M303.60 230.93V234.73" stroke="#0000ff" stroke-width="0.55" fill="none"/>
<path d="M304.93 232.40L308.73 236.20M304.93 236.20L308.73 232.40M304.93 234.30H308.73M306.83 232.40V236.20" stroke="#0000ff" stroke-width="0.55" fill="none"/>
<path d="M308.16 232.40L311.96 236.20M308.16 236.20L311.96 232.40M308.16 234.30H311.96M310.06 232.40V236.20" stroke="#0000ff" stroke-width="0.55" fill="none"/>
<path d="M311.39 228.53L315.19 232.33M311.39 232.33L315.19 228.53M311.39 230.43H315.19M313.29 228.53V232.33" stroke="#0000ff" stroke-width="0.55" fill="none"/>
<path d="M314.62 228.53L318.42 232.33M314.62 232.33L318.42 228.53M314.62 230.43H318.42M316.52 228.53V232.33" stroke="#0000ff" stroke-width="0.55" fill="none"/>
<path d="M317.85 229.56L321.65 233.36M317.85 233.36L321.65 229.56M317.85 231.46H321.65M319.75 229.56V233.36" stroke="#0000ff" stroke-width="0.55" fill="none"/>
<path d="M321.08 225.75L324.88 229.55M321.08 229.55L324.88 225.75M321.08 227.65H324.88M322.98 225.75V229.55" stroke="#0000ff" stroke-width="0.55" fill="none"/>
<path d="M324.31 225.75L328.11 229.55M324.31 229.55L328.11 225.75M324.31 227.65H328.11M326.21 225.75V229.55" stroke="#0000ff" stroke-width="0.55" fill="none"/>
<path d="M327.54 227.33L331.34 231.13M327.54 231.13L331.34 227.33M327.54 229.23H331.34M329.44 227.33V231.13" stroke="#0000ff" stroke-width="0.55" fill="none"/>
<path d="M330.77 223.60L334.57 227.40M330.77 227.40L334.57 223.60M330.77 225.50H334.57M332.67 223.60V227.40" stroke="#0000ff" stroke-width="0.55" fill="none"/>
<path d="M334.00 223.60L337.80 227.40M334.00 227.40L337.80 223.60M334.00 225.50H337.80M335.90 223.60V227.40" stroke="#0000ff" stroke-width="0.55" fill="none"/>
<path d="M337.23 224.33L341.03 228.13M337.23 228.13L341.03 224.33M337.23 226.23H341.03M339.13 224.33V228.13" stroke="#0000ff" stroke-width="0.55" fill="none"/>
<path d="M340.46 220.09L344.26 223.89M340.46 223.89L344.26 220.09M340.46 221.99H344.26M342.36 220.09V223.89" stroke="#0000ff" stroke-width="0.55" fill="none"/>
<path d="M343.69 220.09L347.49 223.89M343.69 223.89L347.49 220.09M343.69 221.99H347.49M345.59 220.09V223.89" stroke="#0000ff" stroke-width="0.55" fill="none"/>
<path d="M346.92 217.45L350.72 221.25M346.92 221.25L350.72 217.45M346.92 219.35H350.72M348.82 217.45V221.25" stroke="#0000ff" stroke-width="0.55" fill="none"/>
<path d="M350.15 217.45L353.95 221.25M350.15 221.25L353.95 217.45M350.15 219.35H353.95M352.05 217.45V221.25" stroke="#0000ff" stroke-width="0.55" fill="none"/>
<path d="M353.38 213.90L357.18 217.70M353.38 217.70L357.18 213.90M353.38 215.80H357.18M355.28 213.90V217.70" stroke="#0000ff" stroke-width="0.55" fill="none"/>
<path d="M356.61 210.71L360.41 214.51M356.61 214.51L360.41 210.71M356.61 212.61H360.41M358.51 210.71V214.51" stroke="#0000ff" stroke-width="0.55" fill="none"/>
<path d="M359.84 210.71L363.64 214.51M359.84 214.51L363.64 210.71M359.84 212.61H363.64M361.74 210.71V214.51" stroke="#0000ff" stroke-width="0.55" fill="none"/>
<path d="M363.07 207.09L366.87 210.89M363.07 210.89L366.87 207.09M363.07 208.99H366.87M364.97 207.09V210.89" stroke="#0000ff" stroke-width="0.55" fill="none"/>
<path d="M366.30 197.16L370.10 200.96M366.30 200.96L370.10 197.16M366.30 199.06H370.10M368.20 197.16V200.96" stroke="#0000ff" stroke-width="0.55" fill="none"/>
<path d="M369.53 197.05L373.33 200.85M369.53 200.85L373.33 197.05M369.53 198.95H373.33M371.43 197.05V200.85" stroke="#0000ff" stroke-width="0.55" fill="none"/>
<path d="M372.76 197.05L376.56 200.85M372.76 200.85L376.56 197.05M372.76 198.95H376.56M374.66 197.05V200.85" stroke="#0000ff" stroke-width="0.55" fill="none"/>
<path d="M375.99 197.05L379.79 200.85M375.99 200.85L379.79 197.05M375.99 198.95H379.79M377.89 197.05V200.85" stroke="#0000ff" stroke-width="0.55" fill="none"/>
<path d="M379.22 197.16L383.02 200.96M379.22 200.96L383.02 197.16M379.22 199.06H383.02M381.12 197.16V200.96" stroke="#0000ff" stroke-width="0.55" fill="none"/>
<path d="M382.45 197.16L386.25 200.96M382.45 200.96L386.25 197.16M382.45 199.06H386.25M384.35 197.16V200.96" stroke="#0000ff" stroke-width="0.55" fill="none"/>
<path d="M385.68 197.27L389.48 201.07M385.68 201.07L389.48 197.27M385.68 199.17H389.48M387.58 197.27V201.07" stroke="#0000ff" stroke-width="0.55" fill="none"/>
<path d="M388.91 197.38L392.71 201.18M388.91 201.18L392.71 197.38M388.91 199.28H392.71M390.81 197.38V201.18" stroke="#0000ff" stroke-width="0.55" fill="none"/>
<path d="M392.14 197.49L395.94 201.29M392.14 201.29L395.94 197.49M392.14 199.39H395.94M394.04 197.49V201.29" stroke="#0000ff" stroke-width="0.55" fill="none"/>
<path d="M395.37 197.60L399.17 201.40M395.37 201.40L399.17 197.60M395.37 199.50H399.17M397.27 197.60V201.40" stroke="#0000ff" stroke-width="0.55" fill="none"/>
<path d="M398.60 197.71L402.40 201.51M398.60 201.51L402.40 197.71M398.60 199.61H402.40M400.50 197.71V201.51" stroke="#0000ff" stroke-width="0.55" fill="none"/>
<polyline points="239.00,198.67 242.23,198.67 245.46,195.79 248.69,195.79 251.92,198.95 255.15,198.95 258.38,196.06 261.61,196.06 264.84,199.83 268.07,199.83 271.30,197.21 274.53,197.21 277.76,201.28 280.99,201.28 284.22,199.34 287.45,199.34 290.68,203.75 293.91,203.75 297.14,201.30 300.37,206.59 303.60,206.59 306.83,204.63 310.06,204.63 313.29,209.50 316.52,209.50 319.75,208.23 322.98,213.03 326.21,213.03 329.44,212.05 332.67,216.90 335.90,216.90 339.13,216.30 342.36,221.70 345.59,221.70 348.82,225.90 352.05,225.90 355.28,231.30 358.51,236.07 361.74,236.07 364.97,241.10 368.20,255.74 371.43,256.88 374.66,257.65 377.89,258.41 381.12,259.06 384.35,259.61 387.58,259.94 390.81,260.26 394.04,260.48 397.27,260.70 400.50,260.92" fill="none" stroke="#ff00ff" stroke-width="0.5" stroke-dasharray="1.6,0.8,0.5,0.8"/>
<rect x="237.25" y="196.92" width="3.50" height="3.50" stroke="#ff00ff" stroke-width="0.5" fill="none"/>
<rect x="240.48" y="196.92" width="3.50" height="3.50" stroke="#ff00ff" stroke-width="0.5" fill="none"/>
<rect x="243.71" y="194.04" width="3.50" height="3.50" stroke="#ff00ff" stroke-width="0.5" fill="none"/>
<rect x="246.94" y="194.04" width="3.50" height="3.50" stroke="#ff00ff" stroke-width="0.5" fill="none"/>
<rect x="250.17" y="197.20" width="3.50" height="3.50" stroke="#ff00ff" stroke-width="0.5" fill="none"/>
<rect x="253.40" y="197.20" width="3.50" height="3.50" stroke="#ff00ff" stroke-width="0.5" fill="none"/>
<rect x="256.63" y="194.31" width="3.50" height="3.50" stroke="#ff00ff" stroke-width="0.5" fill="none"/>
<rect x="259.86" y="194.31" width="3.50" height="3.50" stroke="#ff00ff" stroke-width="0.5" fill="none"/>
<rect x="263.09" y="198.08" width="3.50" height="3.50" stroke="#ff00ff" stroke-width="0.5" fill="none"/>
<rect x="266.32" y="198.08" width="3.50" height="3.50" stroke="#ff00ff" stroke-width="0.5" fill="none"/>
<rect x="269.55" y="195.46" width="3.50" height="3.50" stroke="#ff00ff" stroke-width="0.5" fill="none"/>
<rect x="272.78" y="195.46" width="3.50" height="3.50" stroke="#ff00ff" stroke-width="0.5" fill="none"/>
<rect x="276.01" y="199.53" width="3.50" height="3.50" stroke="#ff00ff" stroke-width="0.5" fill="none"/>
<rect x="279.24" y="199.53" width="3.50" height="3.50" stroke="#ff00ff" stroke-width="0.5" fill="none"/>
<rect x="282.47" y="197.59" width="3.50" height="3.50" stroke="#ff00ff" stroke-width="0.5" fill="none"/>
<rect x="285.70" y="197.59" width="3.50" height="3.50" stroke="#ff00ff" stroke-width="0.5" fill="none"/>
<rect x="288.93" y="202.00" width="3.50" height="3.50" stroke="#ff00ff" stroke-width="0.5" fill="none"/>
<rect x="292.16" y="202.00" width="3.50" height="3.50" stroke="#ff00ff" stroke-width="0.5" fill="none"/>
<rect x="295.39" y="199.55" width="3.50" height="3.50" stroke="#ff00ff" stroke-width="0.5" fill="none"/>
<rect x="298.62" y="204.84" width="3.50" height="3.50" stroke="#ff00ff" stroke-width="0.5" fill="none"/>
<rect x="301.85" y="204.84" width="3.50" height="3.50" stroke="#ff00ff" stroke-width="0.5" fill="none"/>
<rect x="305.08" y="202.88" width="3.50" height="3.50" stroke="#ff00ff" stroke-width="0.5" fill="none"/>
<rect x="308.31" y="202.88" width="3.50" height="3.50" stroke="#ff00ff" stroke-width="0.5" fill="none"/>
<rect x="311.54" y="207.75" width="3.50" height="3.50" stroke="#ff00ff" stroke-width="0.5" fill="none"/>
<rect x="314.77" y="207.75" width="3.50" height="3.50" stroke="#ff00ff" stroke-width="0.5" fill="none"/>
<rect x="318.00" y="206.48" width="3.50" height="3.50" stroke="#ff00ff" stroke-width="0.5" fill="none"/>
<rect x="321.23" y="211.28" width="3.50" height="3.50" stroke="#ff00ff" stroke-width="0.5" fill="none"/>
<rect x="324.46" y="211.28" width="3.50" height="3.50" stroke="#ff00ff" stroke-width="0.5" fill="none"/>
<rect x="327.69" y="210.30" width="3.50" height="3.50" stroke="#ff00ff" stroke-width="0.5" fill="none"/>
<rect x="330.92" y="215.15" width="3.50" height="3.50" stroke="#ff00ff" stroke-width="0.5" fill="none"/>
<rect x="334.15" y="215.15" width="3.50" height="3.50" stroke="#ff00ff" stroke-width="0.5" fill="none"/>
<rect x="337.38" y="214.55" width="3.50" height="3.50" stroke="#ff00ff" stroke-width="0.5" fill="none"/>
<rect x="340.61" y="219.95" width="3.50" height="3.50" stroke="#ff00ff" stroke-width="0.5" fill="none"/>
<rect x="343.84" y="219.95" width="3.50" height="3.50" stroke="#ff00ff" stroke-width="0.5" fill="none"/>
<rect x="347.07" y="224.15" width="3.50" height="3.50" stroke="#ff00ff" stroke-width="0.5" fill="none"/>
<rect x="350.30" y="224.15" width="3.50" height="3.50" stroke="#ff00ff" stroke-width="0.5" fill="none"/>
<rect x="353.53" y="229.55" width="3.50" height="3.50" stroke="#ff00ff" stroke-width="0.5" fill="none"/>
<rect x="356.76" y="234.32" width="3.50" height="3.50" stroke="#ff00ff" stroke-width="0.5" fill="none"/>
<rect x="359.99" y="234.32" width="3.50" height="3.50" stroke="#ff00ff" stroke-width="0.5" fill="none"/>
<rect x="363.22" y="239.35" width="3.50" height="3.50" stroke="#ff00ff" stroke-width="0.5" fill="none"/>
<rect x="366.45" y="253.99" width="3.50" height="3.50" stroke="#ff00ff" stroke-width="0.5" fill="none"/>
<rect x="369.68" y="255.13" width="3.50" height="3.50" stroke="#ff00ff" stroke-width="0.5" fill="none"/>
<rect x="372.91" y="255.90" width="3.50" height="3.50" stroke="#ff00ff" stroke-width="0.5" fill="none"/>
<rect x="376.14" y="256.66" width="3.50" height="3.50" stroke="#ff00ff" stroke-width="0.5" fill="none"/>
<rect x="379.37" y="257.31" width="3.50" height="3.50" stroke="#ff00ff" stroke-width="0.5" fill="none"/>
<rect x="382.60" y="257.86" width="3.50" height="3.50" stroke="#ff00ff" stroke-width="0.5" fill="none"/>
<rect x="385.83" y="258.19" width="3.50" height="3.50" stroke="#ff00ff" stroke-width="0.5" fill="none"/>
<rect x="389.06" y="258.51" width="3.50" height="3.50" stroke="#ff00ff" stroke-width="0.5" fill="none"/>
<rect x="392.29" y="258.73" width="3.50" height="3.50" stroke="#ff00ff" stroke-width="0.5" fill="none"/>
<rect x="395.52" y="258.95" width="3.50" height="3.50" stroke="#ff00ff" stroke-width="0.5" fill="none"/>
<rect x="398.75" y="259.17" width="3.50" height="3.50" stroke="#ff00ff" stroke-width="0.5" fill="none"/>
<text x="352.00" y="179.90" font-size="14.4">D</text><text transform="translate(361.60,184.30) scale(1.05,1)" font-size="12">x</text><text transform="translate(367.50,179.90) scale(1.12,1)" font-size="14.4">=</text><text x="376.60" y="179.90" font-size="14.4">2.0</text>
<text x="96.1" y="20.50" font-size="10.3">p</text><text x="101.3" y="23.70" font-size="8.5">1</text>
<path d="M110.6 18.00H133.2" stroke="#ff0000" stroke-width="0.5" fill="none"/>
<path d="M119.80 18.00H124.00M121.90 15.90V20.10" stroke="#ff0000" stroke-width="0.5" fill="none"/>
<text x="96.1" y="32.67" font-size="10.3">p</text><text x="101.3" y="35.87" font-size="8.5">2</text>
<path d="M110.6 30.17H133.2" stroke="#00ee00" stroke-width="0.5" fill="none" stroke-dasharray="2.0,1.0"/>
<path d="M119.95 28.22L123.85 32.12M119.95 32.12L123.85 28.22" stroke="#00ee00" stroke-width="0.62" fill="none"/>
<text x="96.1" y="44.84" font-size="10.3">p</text><text x="101.3" y="48.04" font-size="8.5">3</text>
<path d="M110.6 42.34H133.2" stroke="#0000ff" stroke-width="0.5" fill="none" stroke-dasharray="1.1,1.1"/>
<path d="M120.00 40.44L123.80 44.24M120.00 44.24L123.80 40.44M120.00 42.34H123.80M121.90 40.44V44.24" stroke="#0000ff" stroke-width="0.55" fill="none"/>
<text x="96.1" y="57.01" font-size="10.3">p</text><text x="101.3" y="60.21" font-size="8.5">4</text>
<path d="M110.6 54.51H133.2" stroke="#ff00ff" stroke-width="0.5" fill="none" stroke-dasharray="1.6,0.8,0.5,0.8"/>
<rect x="119.80" y="52.41" width="4.20" height="4.20" stroke="#ff00ff" stroke-width="0.5" fill="none"/>
<text transform="translate(6.1,73.2) scale(0.93,1)" font-size="12.5" style="fill:#0000ff">p</text>
<text transform="translate(6.1,213.2) scale(0.93,1)" font-size="12.5" style="fill:#0000ff">p</text>
<text x="107.0" y="279.8" font-size="12" style="fill:#0000ff">h</text><text x="112.9" y="283.8" font-size="10.3" style="fill:#0000ff">x</text>
<text x="314.4" y="279.8" font-size="12" style="fill:#0000ff">h</text><text x="320.3" y="283.8" font-size="10.3" style="fill:#0000ff">x</text>
</svg></body></html>
